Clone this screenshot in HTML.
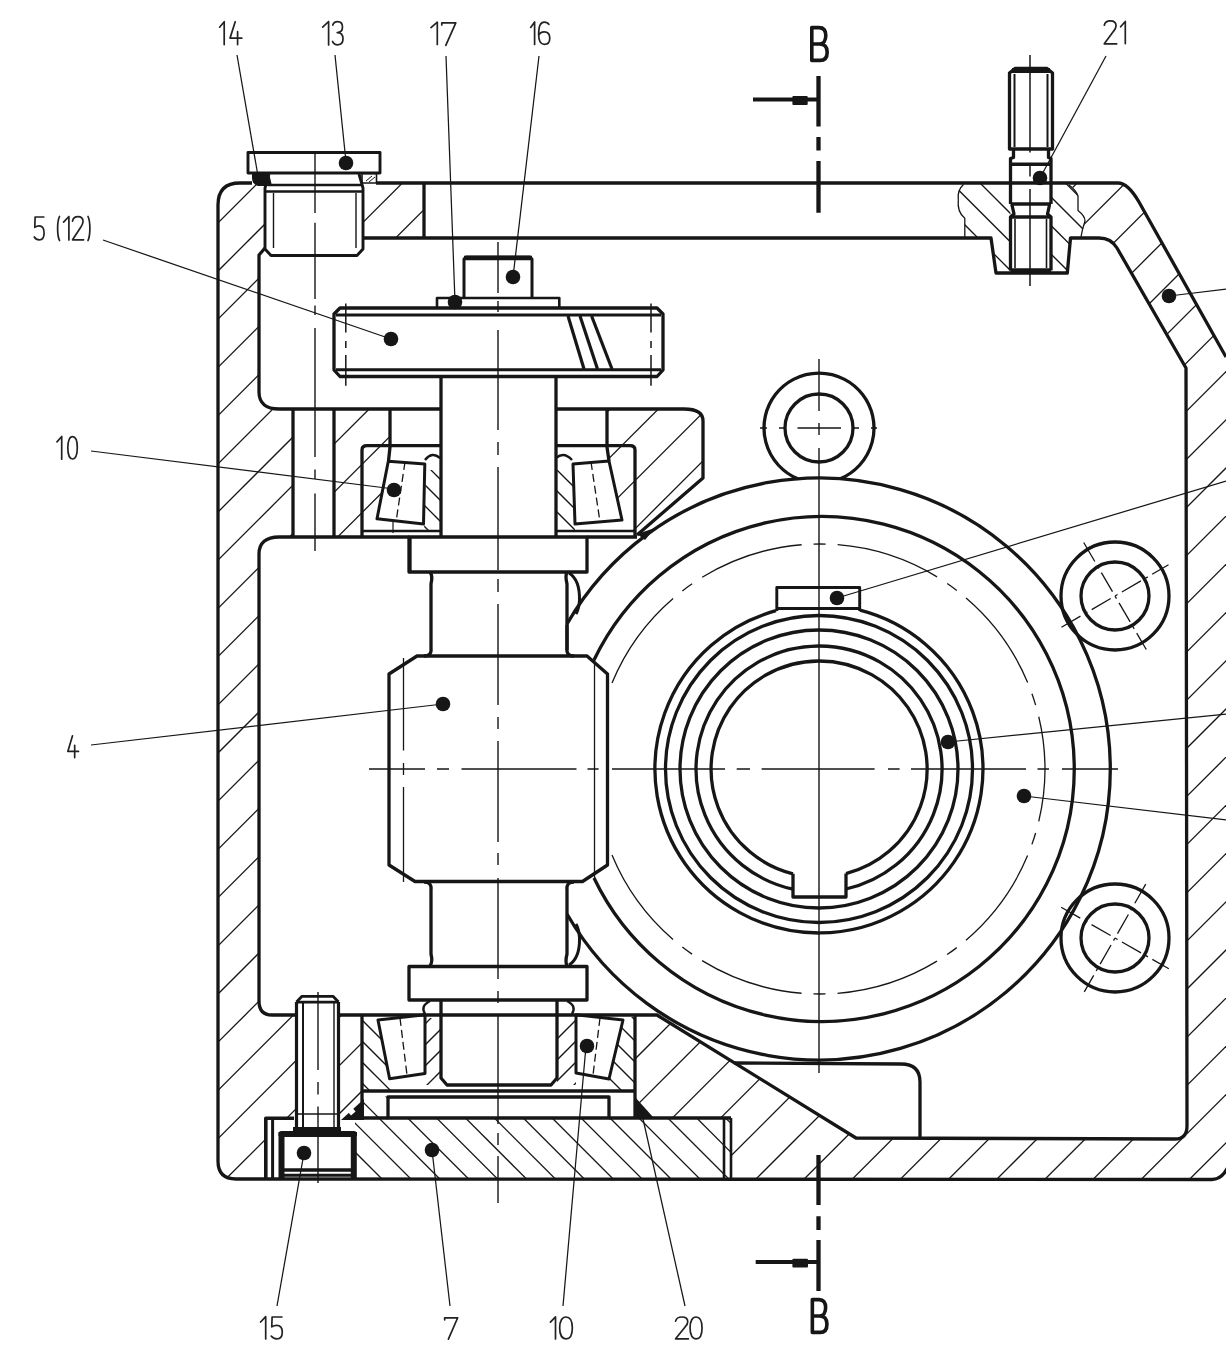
<!DOCTYPE html>
<html><head><meta charset="utf-8"><style>html,body{margin:0;padding:0;background:#fff;}svg{display:block;}</style></head>
<body><svg width="1226" height="1350" viewBox="0 0 1226 1350">
<defs><clipPath id="hh"><path d="M240,183 Q218,183 218,205 L218,1015 L259,1015 L259,554 C259,543 266,537 279,537 L293,537 L293,409 L279,409 C266,409 259,403 259,392 L259,255 L265,248 L265,183 Z M1069,183 L1118,183 Q1128,183 1139,202 L1226,357 L1226,1138 L1187,1138 L1186,368 L1117,248 Q1111,238 1099,238 L1081,238 L1085,221 Q1085,216 1078,210.5 L1078,196 Q1076,190 1069,183 Z"/></clipPath><clipPath id="hh2"><path d="M363,183 L424,183 L424,238 L363,238 Z"/></clipPath><clipPath id="hh3"><path d="M334,409 L390,409 L390,445 L362,445 L362,537 L334,537 Z"/></clipPath><clipPath id="hh4"><path d="M607,409 L684,409 Q703,409 703,421 L703,478 L637,535 L635,537 L635,445 L607,445 Z"/></clipPath><clipPath id="hh5"><path d="M657,1015 L856,1138 L1226,1138 L1226,1179 L731,1179 L731,1118 L635,1118 L635,1016 Z"/></clipPath><clipPath id="hh6"><path d="M258,1015 L296,1015 L296,1118 L265,1118 L265,1179 L236,1179 Q218,1179 218,1161 L218,1015 Z M339,1015 L362,1015 L362,1118 L339,1118 Z"/></clipPath><clipPath id="hc"><path d="M355,1118 L388,1118 L388,1097 L362,1091 L362,1118 M355,1118 L731,1118 L731,1179 L355,1179 Z"/></clipPath><clipPath id="hb"><path d="M963.5,184 Q957,190 958.3,200 Q957,212 964.8,218.3 L964.8,238 L991,238 L996,273 L1010.5,273 L1010.5,184 Z M1051,184 L1069,184 Q1076,190 1078,196 L1078,210.5 Q1085,216 1085,221 L1081,238 L1070.5,238 L1067.3,273 L1051,273 Z"/></clipPath><clipPath id="hcu1"><path d="M363,447 L392,447 L388,461 L377,519 L374,531 L363,531 Z"/></clipPath><clipPath id="hcu2"><path d="M634,447 L606,447 L609,461 L622,520 L626,531 L634,531 Z"/></clipPath><clipPath id="hcu3"><path d="M363,1017 L378,1017 L389,1079 L392,1090 L363,1090 Z"/></clipPath><clipPath id="hcu4"><path d="M634,1017 L623,1017 L609,1079 L606,1090 L634,1090 Z"/></clipPath><clipPath id="hcn3"><path d="M425,1018 L441,1018 L441,1085 L425,1085 Z"/></clipPath><clipPath id="hcn4"><path d="M557,1018 L576,1018 L576,1085 L557,1085 Z"/></clipPath><clipPath id="hcn1"><path d="M426,470 L440,470 L440,531 L424,531 Z"/></clipPath><clipPath id="hcn2"><path d="M557,470 L572,470 L575,531 L557,531 Z"/></clipPath></defs>
<rect width="1226" height="1350" fill="#ffffff"/>
<g fill="none" stroke="#161616" stroke-linecap="butt" stroke-linejoin="round">
<g clip-path="url(#hh)" stroke-width="1.3">
<line x1="-41.2" y1="0" x2="-1391.2" y2="1350"/>
<line x1="7.0" y1="0" x2="-1343.0" y2="1350"/>
<line x1="55.2" y1="0" x2="-1294.8" y2="1350"/>
<line x1="103.4" y1="0" x2="-1246.6" y2="1350"/>
<line x1="151.6" y1="0" x2="-1198.4" y2="1350"/>
<line x1="199.8" y1="0" x2="-1150.2" y2="1350"/>
<line x1="248.0" y1="0" x2="-1102.0" y2="1350"/>
<line x1="296.2" y1="0" x2="-1053.8" y2="1350"/>
<line x1="344.4" y1="0" x2="-1005.6" y2="1350"/>
<line x1="392.6" y1="0" x2="-957.4" y2="1350"/>
<line x1="440.8" y1="0" x2="-909.2" y2="1350"/>
<line x1="489.0" y1="0" x2="-861.0" y2="1350"/>
<line x1="537.2" y1="0" x2="-812.8" y2="1350"/>
<line x1="585.4" y1="0" x2="-764.6" y2="1350"/>
<line x1="633.6" y1="0" x2="-716.4" y2="1350"/>
<line x1="681.8" y1="0" x2="-668.2" y2="1350"/>
<line x1="730.0" y1="0" x2="-620.0" y2="1350"/>
<line x1="778.2" y1="0" x2="-571.8" y2="1350"/>
<line x1="826.4" y1="0" x2="-523.6" y2="1350"/>
<line x1="874.6" y1="0" x2="-475.4" y2="1350"/>
<line x1="922.8" y1="0" x2="-427.2" y2="1350"/>
<line x1="971.0" y1="0" x2="-379.0" y2="1350"/>
<line x1="1019.2" y1="0" x2="-330.8" y2="1350"/>
<line x1="1067.4" y1="0" x2="-282.6" y2="1350"/>
<line x1="1115.6" y1="0" x2="-234.4" y2="1350"/>
<line x1="1163.8" y1="0" x2="-186.2" y2="1350"/>
<line x1="1212.0" y1="0" x2="-138.0" y2="1350"/>
<line x1="1260.2" y1="0" x2="-89.8" y2="1350"/>
<line x1="1308.4" y1="0" x2="-41.6" y2="1350"/>
<line x1="1356.6" y1="0" x2="6.6" y2="1350"/>
<line x1="1404.8" y1="0" x2="54.8" y2="1350"/>
<line x1="1453.0" y1="0" x2="103.0" y2="1350"/>
<line x1="1501.2" y1="0" x2="151.2" y2="1350"/>
<line x1="1549.4" y1="0" x2="199.4" y2="1350"/>
<line x1="1597.6" y1="0" x2="247.6" y2="1350"/>
<line x1="1645.8" y1="0" x2="295.8" y2="1350"/>
<line x1="1694.0" y1="0" x2="344.0" y2="1350"/>
<line x1="1742.2" y1="0" x2="392.2" y2="1350"/>
<line x1="1790.4" y1="0" x2="440.4" y2="1350"/>
<line x1="1838.6" y1="0" x2="488.6" y2="1350"/>
<line x1="1886.8" y1="0" x2="536.8" y2="1350"/>
<line x1="1935.0" y1="0" x2="585.0" y2="1350"/>
<line x1="1983.2" y1="0" x2="633.2" y2="1350"/>
<line x1="2031.4" y1="0" x2="681.4" y2="1350"/>
<line x1="2079.6" y1="0" x2="729.6" y2="1350"/>
<line x1="2127.8" y1="0" x2="777.8" y2="1350"/>
<line x1="2176.0" y1="0" x2="826.0" y2="1350"/>
<line x1="2224.2" y1="0" x2="874.2" y2="1350"/>
<line x1="2272.4" y1="0" x2="922.4" y2="1350"/>
<line x1="2320.6" y1="0" x2="970.6" y2="1350"/>
<line x1="2368.8" y1="0" x2="1018.8" y2="1350"/>
<line x1="2417.0" y1="0" x2="1067.0" y2="1350"/>
<line x1="2465.2" y1="0" x2="1115.2" y2="1350"/>
<line x1="2513.4" y1="0" x2="1163.4" y2="1350"/>
<line x1="2561.6" y1="0" x2="1211.6" y2="1350"/>
<line x1="2609.8" y1="0" x2="1259.8" y2="1350"/>
</g>
<g clip-path="url(#hh2)" stroke-width="1.3">
<line x1="-41.2" y1="0" x2="-1391.2" y2="1350"/>
<line x1="7.0" y1="0" x2="-1343.0" y2="1350"/>
<line x1="55.2" y1="0" x2="-1294.8" y2="1350"/>
<line x1="103.4" y1="0" x2="-1246.6" y2="1350"/>
<line x1="151.6" y1="0" x2="-1198.4" y2="1350"/>
<line x1="199.8" y1="0" x2="-1150.2" y2="1350"/>
<line x1="248.0" y1="0" x2="-1102.0" y2="1350"/>
<line x1="296.2" y1="0" x2="-1053.8" y2="1350"/>
<line x1="344.4" y1="0" x2="-1005.6" y2="1350"/>
<line x1="392.6" y1="0" x2="-957.4" y2="1350"/>
<line x1="440.8" y1="0" x2="-909.2" y2="1350"/>
<line x1="489.0" y1="0" x2="-861.0" y2="1350"/>
<line x1="537.2" y1="0" x2="-812.8" y2="1350"/>
<line x1="585.4" y1="0" x2="-764.6" y2="1350"/>
<line x1="633.6" y1="0" x2="-716.4" y2="1350"/>
<line x1="681.8" y1="0" x2="-668.2" y2="1350"/>
<line x1="730.0" y1="0" x2="-620.0" y2="1350"/>
<line x1="778.2" y1="0" x2="-571.8" y2="1350"/>
<line x1="826.4" y1="0" x2="-523.6" y2="1350"/>
<line x1="874.6" y1="0" x2="-475.4" y2="1350"/>
<line x1="922.8" y1="0" x2="-427.2" y2="1350"/>
<line x1="971.0" y1="0" x2="-379.0" y2="1350"/>
<line x1="1019.2" y1="0" x2="-330.8" y2="1350"/>
<line x1="1067.4" y1="0" x2="-282.6" y2="1350"/>
<line x1="1115.6" y1="0" x2="-234.4" y2="1350"/>
<line x1="1163.8" y1="0" x2="-186.2" y2="1350"/>
<line x1="1212.0" y1="0" x2="-138.0" y2="1350"/>
<line x1="1260.2" y1="0" x2="-89.8" y2="1350"/>
<line x1="1308.4" y1="0" x2="-41.6" y2="1350"/>
<line x1="1356.6" y1="0" x2="6.6" y2="1350"/>
<line x1="1404.8" y1="0" x2="54.8" y2="1350"/>
<line x1="1453.0" y1="0" x2="103.0" y2="1350"/>
<line x1="1501.2" y1="0" x2="151.2" y2="1350"/>
<line x1="1549.4" y1="0" x2="199.4" y2="1350"/>
<line x1="1597.6" y1="0" x2="247.6" y2="1350"/>
<line x1="1645.8" y1="0" x2="295.8" y2="1350"/>
<line x1="1694.0" y1="0" x2="344.0" y2="1350"/>
<line x1="1742.2" y1="0" x2="392.2" y2="1350"/>
<line x1="1790.4" y1="0" x2="440.4" y2="1350"/>
<line x1="1838.6" y1="0" x2="488.6" y2="1350"/>
<line x1="1886.8" y1="0" x2="536.8" y2="1350"/>
<line x1="1935.0" y1="0" x2="585.0" y2="1350"/>
<line x1="1983.2" y1="0" x2="633.2" y2="1350"/>
<line x1="2031.4" y1="0" x2="681.4" y2="1350"/>
<line x1="2079.6" y1="0" x2="729.6" y2="1350"/>
<line x1="2127.8" y1="0" x2="777.8" y2="1350"/>
<line x1="2176.0" y1="0" x2="826.0" y2="1350"/>
<line x1="2224.2" y1="0" x2="874.2" y2="1350"/>
<line x1="2272.4" y1="0" x2="922.4" y2="1350"/>
<line x1="2320.6" y1="0" x2="970.6" y2="1350"/>
<line x1="2368.8" y1="0" x2="1018.8" y2="1350"/>
<line x1="2417.0" y1="0" x2="1067.0" y2="1350"/>
<line x1="2465.2" y1="0" x2="1115.2" y2="1350"/>
<line x1="2513.4" y1="0" x2="1163.4" y2="1350"/>
<line x1="2561.6" y1="0" x2="1211.6" y2="1350"/>
<line x1="2609.8" y1="0" x2="1259.8" y2="1350"/>
</g>
<g clip-path="url(#hh3)" stroke-width="1.3">
<line x1="-41.2" y1="0" x2="-1391.2" y2="1350"/>
<line x1="7.0" y1="0" x2="-1343.0" y2="1350"/>
<line x1="55.2" y1="0" x2="-1294.8" y2="1350"/>
<line x1="103.4" y1="0" x2="-1246.6" y2="1350"/>
<line x1="151.6" y1="0" x2="-1198.4" y2="1350"/>
<line x1="199.8" y1="0" x2="-1150.2" y2="1350"/>
<line x1="248.0" y1="0" x2="-1102.0" y2="1350"/>
<line x1="296.2" y1="0" x2="-1053.8" y2="1350"/>
<line x1="344.4" y1="0" x2="-1005.6" y2="1350"/>
<line x1="392.6" y1="0" x2="-957.4" y2="1350"/>
<line x1="440.8" y1="0" x2="-909.2" y2="1350"/>
<line x1="489.0" y1="0" x2="-861.0" y2="1350"/>
<line x1="537.2" y1="0" x2="-812.8" y2="1350"/>
<line x1="585.4" y1="0" x2="-764.6" y2="1350"/>
<line x1="633.6" y1="0" x2="-716.4" y2="1350"/>
<line x1="681.8" y1="0" x2="-668.2" y2="1350"/>
<line x1="730.0" y1="0" x2="-620.0" y2="1350"/>
<line x1="778.2" y1="0" x2="-571.8" y2="1350"/>
<line x1="826.4" y1="0" x2="-523.6" y2="1350"/>
<line x1="874.6" y1="0" x2="-475.4" y2="1350"/>
<line x1="922.8" y1="0" x2="-427.2" y2="1350"/>
<line x1="971.0" y1="0" x2="-379.0" y2="1350"/>
<line x1="1019.2" y1="0" x2="-330.8" y2="1350"/>
<line x1="1067.4" y1="0" x2="-282.6" y2="1350"/>
<line x1="1115.6" y1="0" x2="-234.4" y2="1350"/>
<line x1="1163.8" y1="0" x2="-186.2" y2="1350"/>
<line x1="1212.0" y1="0" x2="-138.0" y2="1350"/>
<line x1="1260.2" y1="0" x2="-89.8" y2="1350"/>
<line x1="1308.4" y1="0" x2="-41.6" y2="1350"/>
<line x1="1356.6" y1="0" x2="6.6" y2="1350"/>
<line x1="1404.8" y1="0" x2="54.8" y2="1350"/>
<line x1="1453.0" y1="0" x2="103.0" y2="1350"/>
<line x1="1501.2" y1="0" x2="151.2" y2="1350"/>
<line x1="1549.4" y1="0" x2="199.4" y2="1350"/>
<line x1="1597.6" y1="0" x2="247.6" y2="1350"/>
<line x1="1645.8" y1="0" x2="295.8" y2="1350"/>
<line x1="1694.0" y1="0" x2="344.0" y2="1350"/>
<line x1="1742.2" y1="0" x2="392.2" y2="1350"/>
<line x1="1790.4" y1="0" x2="440.4" y2="1350"/>
<line x1="1838.6" y1="0" x2="488.6" y2="1350"/>
<line x1="1886.8" y1="0" x2="536.8" y2="1350"/>
<line x1="1935.0" y1="0" x2="585.0" y2="1350"/>
<line x1="1983.2" y1="0" x2="633.2" y2="1350"/>
<line x1="2031.4" y1="0" x2="681.4" y2="1350"/>
<line x1="2079.6" y1="0" x2="729.6" y2="1350"/>
<line x1="2127.8" y1="0" x2="777.8" y2="1350"/>
<line x1="2176.0" y1="0" x2="826.0" y2="1350"/>
<line x1="2224.2" y1="0" x2="874.2" y2="1350"/>
<line x1="2272.4" y1="0" x2="922.4" y2="1350"/>
<line x1="2320.6" y1="0" x2="970.6" y2="1350"/>
<line x1="2368.8" y1="0" x2="1018.8" y2="1350"/>
<line x1="2417.0" y1="0" x2="1067.0" y2="1350"/>
<line x1="2465.2" y1="0" x2="1115.2" y2="1350"/>
<line x1="2513.4" y1="0" x2="1163.4" y2="1350"/>
<line x1="2561.6" y1="0" x2="1211.6" y2="1350"/>
<line x1="2609.8" y1="0" x2="1259.8" y2="1350"/>
</g>
<g clip-path="url(#hh4)" stroke-width="1.3">
<line x1="-41.2" y1="0" x2="-1391.2" y2="1350"/>
<line x1="7.0" y1="0" x2="-1343.0" y2="1350"/>
<line x1="55.2" y1="0" x2="-1294.8" y2="1350"/>
<line x1="103.4" y1="0" x2="-1246.6" y2="1350"/>
<line x1="151.6" y1="0" x2="-1198.4" y2="1350"/>
<line x1="199.8" y1="0" x2="-1150.2" y2="1350"/>
<line x1="248.0" y1="0" x2="-1102.0" y2="1350"/>
<line x1="296.2" y1="0" x2="-1053.8" y2="1350"/>
<line x1="344.4" y1="0" x2="-1005.6" y2="1350"/>
<line x1="392.6" y1="0" x2="-957.4" y2="1350"/>
<line x1="440.8" y1="0" x2="-909.2" y2="1350"/>
<line x1="489.0" y1="0" x2="-861.0" y2="1350"/>
<line x1="537.2" y1="0" x2="-812.8" y2="1350"/>
<line x1="585.4" y1="0" x2="-764.6" y2="1350"/>
<line x1="633.6" y1="0" x2="-716.4" y2="1350"/>
<line x1="681.8" y1="0" x2="-668.2" y2="1350"/>
<line x1="730.0" y1="0" x2="-620.0" y2="1350"/>
<line x1="778.2" y1="0" x2="-571.8" y2="1350"/>
<line x1="826.4" y1="0" x2="-523.6" y2="1350"/>
<line x1="874.6" y1="0" x2="-475.4" y2="1350"/>
<line x1="922.8" y1="0" x2="-427.2" y2="1350"/>
<line x1="971.0" y1="0" x2="-379.0" y2="1350"/>
<line x1="1019.2" y1="0" x2="-330.8" y2="1350"/>
<line x1="1067.4" y1="0" x2="-282.6" y2="1350"/>
<line x1="1115.6" y1="0" x2="-234.4" y2="1350"/>
<line x1="1163.8" y1="0" x2="-186.2" y2="1350"/>
<line x1="1212.0" y1="0" x2="-138.0" y2="1350"/>
<line x1="1260.2" y1="0" x2="-89.8" y2="1350"/>
<line x1="1308.4" y1="0" x2="-41.6" y2="1350"/>
<line x1="1356.6" y1="0" x2="6.6" y2="1350"/>
<line x1="1404.8" y1="0" x2="54.8" y2="1350"/>
<line x1="1453.0" y1="0" x2="103.0" y2="1350"/>
<line x1="1501.2" y1="0" x2="151.2" y2="1350"/>
<line x1="1549.4" y1="0" x2="199.4" y2="1350"/>
<line x1="1597.6" y1="0" x2="247.6" y2="1350"/>
<line x1="1645.8" y1="0" x2="295.8" y2="1350"/>
<line x1="1694.0" y1="0" x2="344.0" y2="1350"/>
<line x1="1742.2" y1="0" x2="392.2" y2="1350"/>
<line x1="1790.4" y1="0" x2="440.4" y2="1350"/>
<line x1="1838.6" y1="0" x2="488.6" y2="1350"/>
<line x1="1886.8" y1="0" x2="536.8" y2="1350"/>
<line x1="1935.0" y1="0" x2="585.0" y2="1350"/>
<line x1="1983.2" y1="0" x2="633.2" y2="1350"/>
<line x1="2031.4" y1="0" x2="681.4" y2="1350"/>
<line x1="2079.6" y1="0" x2="729.6" y2="1350"/>
<line x1="2127.8" y1="0" x2="777.8" y2="1350"/>
<line x1="2176.0" y1="0" x2="826.0" y2="1350"/>
<line x1="2224.2" y1="0" x2="874.2" y2="1350"/>
<line x1="2272.4" y1="0" x2="922.4" y2="1350"/>
<line x1="2320.6" y1="0" x2="970.6" y2="1350"/>
<line x1="2368.8" y1="0" x2="1018.8" y2="1350"/>
<line x1="2417.0" y1="0" x2="1067.0" y2="1350"/>
<line x1="2465.2" y1="0" x2="1115.2" y2="1350"/>
<line x1="2513.4" y1="0" x2="1163.4" y2="1350"/>
<line x1="2561.6" y1="0" x2="1211.6" y2="1350"/>
<line x1="2609.8" y1="0" x2="1259.8" y2="1350"/>
</g>
<g clip-path="url(#hh5)" stroke-width="1.3">
<line x1="-41.2" y1="0" x2="-1391.2" y2="1350"/>
<line x1="7.0" y1="0" x2="-1343.0" y2="1350"/>
<line x1="55.2" y1="0" x2="-1294.8" y2="1350"/>
<line x1="103.4" y1="0" x2="-1246.6" y2="1350"/>
<line x1="151.6" y1="0" x2="-1198.4" y2="1350"/>
<line x1="199.8" y1="0" x2="-1150.2" y2="1350"/>
<line x1="248.0" y1="0" x2="-1102.0" y2="1350"/>
<line x1="296.2" y1="0" x2="-1053.8" y2="1350"/>
<line x1="344.4" y1="0" x2="-1005.6" y2="1350"/>
<line x1="392.6" y1="0" x2="-957.4" y2="1350"/>
<line x1="440.8" y1="0" x2="-909.2" y2="1350"/>
<line x1="489.0" y1="0" x2="-861.0" y2="1350"/>
<line x1="537.2" y1="0" x2="-812.8" y2="1350"/>
<line x1="585.4" y1="0" x2="-764.6" y2="1350"/>
<line x1="633.6" y1="0" x2="-716.4" y2="1350"/>
<line x1="681.8" y1="0" x2="-668.2" y2="1350"/>
<line x1="730.0" y1="0" x2="-620.0" y2="1350"/>
<line x1="778.2" y1="0" x2="-571.8" y2="1350"/>
<line x1="826.4" y1="0" x2="-523.6" y2="1350"/>
<line x1="874.6" y1="0" x2="-475.4" y2="1350"/>
<line x1="922.8" y1="0" x2="-427.2" y2="1350"/>
<line x1="971.0" y1="0" x2="-379.0" y2="1350"/>
<line x1="1019.2" y1="0" x2="-330.8" y2="1350"/>
<line x1="1067.4" y1="0" x2="-282.6" y2="1350"/>
<line x1="1115.6" y1="0" x2="-234.4" y2="1350"/>
<line x1="1163.8" y1="0" x2="-186.2" y2="1350"/>
<line x1="1212.0" y1="0" x2="-138.0" y2="1350"/>
<line x1="1260.2" y1="0" x2="-89.8" y2="1350"/>
<line x1="1308.4" y1="0" x2="-41.6" y2="1350"/>
<line x1="1356.6" y1="0" x2="6.6" y2="1350"/>
<line x1="1404.8" y1="0" x2="54.8" y2="1350"/>
<line x1="1453.0" y1="0" x2="103.0" y2="1350"/>
<line x1="1501.2" y1="0" x2="151.2" y2="1350"/>
<line x1="1549.4" y1="0" x2="199.4" y2="1350"/>
<line x1="1597.6" y1="0" x2="247.6" y2="1350"/>
<line x1="1645.8" y1="0" x2="295.8" y2="1350"/>
<line x1="1694.0" y1="0" x2="344.0" y2="1350"/>
<line x1="1742.2" y1="0" x2="392.2" y2="1350"/>
<line x1="1790.4" y1="0" x2="440.4" y2="1350"/>
<line x1="1838.6" y1="0" x2="488.6" y2="1350"/>
<line x1="1886.8" y1="0" x2="536.8" y2="1350"/>
<line x1="1935.0" y1="0" x2="585.0" y2="1350"/>
<line x1="1983.2" y1="0" x2="633.2" y2="1350"/>
<line x1="2031.4" y1="0" x2="681.4" y2="1350"/>
<line x1="2079.6" y1="0" x2="729.6" y2="1350"/>
<line x1="2127.8" y1="0" x2="777.8" y2="1350"/>
<line x1="2176.0" y1="0" x2="826.0" y2="1350"/>
<line x1="2224.2" y1="0" x2="874.2" y2="1350"/>
<line x1="2272.4" y1="0" x2="922.4" y2="1350"/>
<line x1="2320.6" y1="0" x2="970.6" y2="1350"/>
<line x1="2368.8" y1="0" x2="1018.8" y2="1350"/>
<line x1="2417.0" y1="0" x2="1067.0" y2="1350"/>
<line x1="2465.2" y1="0" x2="1115.2" y2="1350"/>
<line x1="2513.4" y1="0" x2="1163.4" y2="1350"/>
<line x1="2561.6" y1="0" x2="1211.6" y2="1350"/>
<line x1="2609.8" y1="0" x2="1259.8" y2="1350"/>
</g>
<g clip-path="url(#hh6)" stroke-width="1.3">
<line x1="-41.2" y1="0" x2="-1391.2" y2="1350"/>
<line x1="7.0" y1="0" x2="-1343.0" y2="1350"/>
<line x1="55.2" y1="0" x2="-1294.8" y2="1350"/>
<line x1="103.4" y1="0" x2="-1246.6" y2="1350"/>
<line x1="151.6" y1="0" x2="-1198.4" y2="1350"/>
<line x1="199.8" y1="0" x2="-1150.2" y2="1350"/>
<line x1="248.0" y1="0" x2="-1102.0" y2="1350"/>
<line x1="296.2" y1="0" x2="-1053.8" y2="1350"/>
<line x1="344.4" y1="0" x2="-1005.6" y2="1350"/>
<line x1="392.6" y1="0" x2="-957.4" y2="1350"/>
<line x1="440.8" y1="0" x2="-909.2" y2="1350"/>
<line x1="489.0" y1="0" x2="-861.0" y2="1350"/>
<line x1="537.2" y1="0" x2="-812.8" y2="1350"/>
<line x1="585.4" y1="0" x2="-764.6" y2="1350"/>
<line x1="633.6" y1="0" x2="-716.4" y2="1350"/>
<line x1="681.8" y1="0" x2="-668.2" y2="1350"/>
<line x1="730.0" y1="0" x2="-620.0" y2="1350"/>
<line x1="778.2" y1="0" x2="-571.8" y2="1350"/>
<line x1="826.4" y1="0" x2="-523.6" y2="1350"/>
<line x1="874.6" y1="0" x2="-475.4" y2="1350"/>
<line x1="922.8" y1="0" x2="-427.2" y2="1350"/>
<line x1="971.0" y1="0" x2="-379.0" y2="1350"/>
<line x1="1019.2" y1="0" x2="-330.8" y2="1350"/>
<line x1="1067.4" y1="0" x2="-282.6" y2="1350"/>
<line x1="1115.6" y1="0" x2="-234.4" y2="1350"/>
<line x1="1163.8" y1="0" x2="-186.2" y2="1350"/>
<line x1="1212.0" y1="0" x2="-138.0" y2="1350"/>
<line x1="1260.2" y1="0" x2="-89.8" y2="1350"/>
<line x1="1308.4" y1="0" x2="-41.6" y2="1350"/>
<line x1="1356.6" y1="0" x2="6.6" y2="1350"/>
<line x1="1404.8" y1="0" x2="54.8" y2="1350"/>
<line x1="1453.0" y1="0" x2="103.0" y2="1350"/>
<line x1="1501.2" y1="0" x2="151.2" y2="1350"/>
<line x1="1549.4" y1="0" x2="199.4" y2="1350"/>
<line x1="1597.6" y1="0" x2="247.6" y2="1350"/>
<line x1="1645.8" y1="0" x2="295.8" y2="1350"/>
<line x1="1694.0" y1="0" x2="344.0" y2="1350"/>
<line x1="1742.2" y1="0" x2="392.2" y2="1350"/>
<line x1="1790.4" y1="0" x2="440.4" y2="1350"/>
<line x1="1838.6" y1="0" x2="488.6" y2="1350"/>
<line x1="1886.8" y1="0" x2="536.8" y2="1350"/>
<line x1="1935.0" y1="0" x2="585.0" y2="1350"/>
<line x1="1983.2" y1="0" x2="633.2" y2="1350"/>
<line x1="2031.4" y1="0" x2="681.4" y2="1350"/>
<line x1="2079.6" y1="0" x2="729.6" y2="1350"/>
<line x1="2127.8" y1="0" x2="777.8" y2="1350"/>
<line x1="2176.0" y1="0" x2="826.0" y2="1350"/>
<line x1="2224.2" y1="0" x2="874.2" y2="1350"/>
<line x1="2272.4" y1="0" x2="922.4" y2="1350"/>
<line x1="2320.6" y1="0" x2="970.6" y2="1350"/>
<line x1="2368.8" y1="0" x2="1018.8" y2="1350"/>
<line x1="2417.0" y1="0" x2="1067.0" y2="1350"/>
<line x1="2465.2" y1="0" x2="1115.2" y2="1350"/>
<line x1="2513.4" y1="0" x2="1163.4" y2="1350"/>
<line x1="2561.6" y1="0" x2="1211.6" y2="1350"/>
<line x1="2609.8" y1="0" x2="1259.8" y2="1350"/>
</g>
<g clip-path="url(#hc)" stroke-width="1.3">
<line x1="-1375.0" y1="0" x2="-25.0" y2="1350"/>
<line x1="-1346.1" y1="0" x2="3.9" y2="1350"/>
<line x1="-1317.2" y1="0" x2="32.8" y2="1350"/>
<line x1="-1288.3" y1="0" x2="61.7" y2="1350"/>
<line x1="-1259.4" y1="0" x2="90.6" y2="1350"/>
<line x1="-1230.5" y1="0" x2="119.5" y2="1350"/>
<line x1="-1201.6" y1="0" x2="148.4" y2="1350"/>
<line x1="-1172.7" y1="0" x2="177.3" y2="1350"/>
<line x1="-1143.8" y1="0" x2="206.2" y2="1350"/>
<line x1="-1114.9" y1="0" x2="235.1" y2="1350"/>
<line x1="-1086.0" y1="0" x2="264.0" y2="1350"/>
<line x1="-1057.1" y1="0" x2="292.9" y2="1350"/>
<line x1="-1028.2" y1="0" x2="321.8" y2="1350"/>
<line x1="-999.3" y1="0" x2="350.7" y2="1350"/>
<line x1="-970.4" y1="0" x2="379.6" y2="1350"/>
<line x1="-941.5" y1="0" x2="408.5" y2="1350"/>
<line x1="-912.6" y1="0" x2="437.4" y2="1350"/>
<line x1="-883.7" y1="0" x2="466.3" y2="1350"/>
<line x1="-854.8" y1="0" x2="495.2" y2="1350"/>
<line x1="-825.9" y1="0" x2="524.1" y2="1350"/>
<line x1="-797.0" y1="0" x2="553.0" y2="1350"/>
<line x1="-768.1" y1="0" x2="581.9" y2="1350"/>
<line x1="-739.2" y1="0" x2="610.8" y2="1350"/>
<line x1="-710.3" y1="0" x2="639.7" y2="1350"/>
<line x1="-681.4" y1="0" x2="668.6" y2="1350"/>
<line x1="-652.5" y1="0" x2="697.5" y2="1350"/>
<line x1="-623.6" y1="0" x2="726.4" y2="1350"/>
<line x1="-594.7" y1="0" x2="755.3" y2="1350"/>
<line x1="-565.8" y1="0" x2="784.2" y2="1350"/>
<line x1="-536.9" y1="0" x2="813.1" y2="1350"/>
<line x1="-508.0" y1="0" x2="842.0" y2="1350"/>
<line x1="-479.1" y1="0" x2="870.9" y2="1350"/>
<line x1="-450.2" y1="0" x2="899.8" y2="1350"/>
<line x1="-421.3" y1="0" x2="928.7" y2="1350"/>
<line x1="-392.4" y1="0" x2="957.6" y2="1350"/>
<line x1="-363.5" y1="0" x2="986.5" y2="1350"/>
<line x1="-334.6" y1="0" x2="1015.4" y2="1350"/>
<line x1="-305.7" y1="0" x2="1044.3" y2="1350"/>
<line x1="-276.8" y1="0" x2="1073.2" y2="1350"/>
<line x1="-247.9" y1="0" x2="1102.1" y2="1350"/>
<line x1="-219.0" y1="0" x2="1131.0" y2="1350"/>
<line x1="-190.1" y1="0" x2="1159.9" y2="1350"/>
<line x1="-161.2" y1="0" x2="1188.8" y2="1350"/>
<line x1="-132.3" y1="0" x2="1217.7" y2="1350"/>
<line x1="-103.4" y1="0" x2="1246.6" y2="1350"/>
<line x1="-74.5" y1="0" x2="1275.5" y2="1350"/>
<line x1="-45.6" y1="0" x2="1304.4" y2="1350"/>
<line x1="-16.7" y1="0" x2="1333.3" y2="1350"/>
<line x1="12.2" y1="0" x2="1362.2" y2="1350"/>
<line x1="41.1" y1="0" x2="1391.1" y2="1350"/>
<line x1="70.0" y1="0" x2="1420.0" y2="1350"/>
<line x1="98.9" y1="0" x2="1448.9" y2="1350"/>
<line x1="127.8" y1="0" x2="1477.8" y2="1350"/>
<line x1="156.7" y1="0" x2="1506.7" y2="1350"/>
<line x1="185.6" y1="0" x2="1535.6" y2="1350"/>
<line x1="214.5" y1="0" x2="1564.5" y2="1350"/>
<line x1="243.4" y1="0" x2="1593.4" y2="1350"/>
<line x1="272.3" y1="0" x2="1622.3" y2="1350"/>
<line x1="301.2" y1="0" x2="1651.2" y2="1350"/>
<line x1="330.1" y1="0" x2="1680.1" y2="1350"/>
<line x1="359.0" y1="0" x2="1709.0" y2="1350"/>
<line x1="387.9" y1="0" x2="1737.9" y2="1350"/>
<line x1="416.8" y1="0" x2="1766.8" y2="1350"/>
<line x1="445.7" y1="0" x2="1795.7" y2="1350"/>
<line x1="474.6" y1="0" x2="1824.6" y2="1350"/>
<line x1="503.5" y1="0" x2="1853.5" y2="1350"/>
<line x1="532.4" y1="0" x2="1882.4" y2="1350"/>
<line x1="561.3" y1="0" x2="1911.3" y2="1350"/>
<line x1="590.2" y1="0" x2="1940.2" y2="1350"/>
<line x1="619.1" y1="0" x2="1969.1" y2="1350"/>
<line x1="648.0" y1="0" x2="1998.0" y2="1350"/>
<line x1="676.9" y1="0" x2="2026.9" y2="1350"/>
<line x1="705.8" y1="0" x2="2055.8" y2="1350"/>
<line x1="734.7" y1="0" x2="2084.7" y2="1350"/>
<line x1="763.6" y1="0" x2="2113.6" y2="1350"/>
<line x1="792.5" y1="0" x2="2142.5" y2="1350"/>
<line x1="821.4" y1="0" x2="2171.4" y2="1350"/>
<line x1="850.3" y1="0" x2="2200.3" y2="1350"/>
<line x1="879.2" y1="0" x2="2229.2" y2="1350"/>
<line x1="908.1" y1="0" x2="2258.1" y2="1350"/>
<line x1="937.0" y1="0" x2="2287.0" y2="1350"/>
<line x1="965.9" y1="0" x2="2315.9" y2="1350"/>
<line x1="994.8" y1="0" x2="2344.8" y2="1350"/>
<line x1="1023.7" y1="0" x2="2373.7" y2="1350"/>
<line x1="1052.6" y1="0" x2="2402.6" y2="1350"/>
<line x1="1081.5" y1="0" x2="2431.5" y2="1350"/>
<line x1="1110.4" y1="0" x2="2460.4" y2="1350"/>
<line x1="1139.3" y1="0" x2="2489.3" y2="1350"/>
<line x1="1168.2" y1="0" x2="2518.2" y2="1350"/>
<line x1="1197.1" y1="0" x2="2547.1" y2="1350"/>
<line x1="1226.0" y1="0" x2="2576.0" y2="1350"/>
</g>
<g clip-path="url(#hb)" stroke-width="1.3">
<line x1="-1369.0" y1="0" x2="-19.0" y2="1350"/>
<line x1="-1340.5" y1="0" x2="9.5" y2="1350"/>
<line x1="-1312.0" y1="0" x2="38.0" y2="1350"/>
<line x1="-1283.5" y1="0" x2="66.5" y2="1350"/>
<line x1="-1255.0" y1="0" x2="95.0" y2="1350"/>
<line x1="-1226.5" y1="0" x2="123.5" y2="1350"/>
<line x1="-1198.0" y1="0" x2="152.0" y2="1350"/>
<line x1="-1169.5" y1="0" x2="180.5" y2="1350"/>
<line x1="-1141.0" y1="0" x2="209.0" y2="1350"/>
<line x1="-1112.5" y1="0" x2="237.5" y2="1350"/>
<line x1="-1084.0" y1="0" x2="266.0" y2="1350"/>
<line x1="-1055.5" y1="0" x2="294.5" y2="1350"/>
<line x1="-1027.0" y1="0" x2="323.0" y2="1350"/>
<line x1="-998.5" y1="0" x2="351.5" y2="1350"/>
<line x1="-970.0" y1="0" x2="380.0" y2="1350"/>
<line x1="-941.5" y1="0" x2="408.5" y2="1350"/>
<line x1="-913.0" y1="0" x2="437.0" y2="1350"/>
<line x1="-884.5" y1="0" x2="465.5" y2="1350"/>
<line x1="-856.0" y1="0" x2="494.0" y2="1350"/>
<line x1="-827.5" y1="0" x2="522.5" y2="1350"/>
<line x1="-799.0" y1="0" x2="551.0" y2="1350"/>
<line x1="-770.5" y1="0" x2="579.5" y2="1350"/>
<line x1="-742.0" y1="0" x2="608.0" y2="1350"/>
<line x1="-713.5" y1="0" x2="636.5" y2="1350"/>
<line x1="-685.0" y1="0" x2="665.0" y2="1350"/>
<line x1="-656.5" y1="0" x2="693.5" y2="1350"/>
<line x1="-628.0" y1="0" x2="722.0" y2="1350"/>
<line x1="-599.5" y1="0" x2="750.5" y2="1350"/>
<line x1="-571.0" y1="0" x2="779.0" y2="1350"/>
<line x1="-542.5" y1="0" x2="807.5" y2="1350"/>
<line x1="-514.0" y1="0" x2="836.0" y2="1350"/>
<line x1="-485.5" y1="0" x2="864.5" y2="1350"/>
<line x1="-457.0" y1="0" x2="893.0" y2="1350"/>
<line x1="-428.5" y1="0" x2="921.5" y2="1350"/>
<line x1="-400.0" y1="0" x2="950.0" y2="1350"/>
<line x1="-371.5" y1="0" x2="978.5" y2="1350"/>
<line x1="-343.0" y1="0" x2="1007.0" y2="1350"/>
<line x1="-314.5" y1="0" x2="1035.5" y2="1350"/>
<line x1="-286.0" y1="0" x2="1064.0" y2="1350"/>
<line x1="-257.5" y1="0" x2="1092.5" y2="1350"/>
<line x1="-229.0" y1="0" x2="1121.0" y2="1350"/>
<line x1="-200.5" y1="0" x2="1149.5" y2="1350"/>
<line x1="-172.0" y1="0" x2="1178.0" y2="1350"/>
<line x1="-143.5" y1="0" x2="1206.5" y2="1350"/>
<line x1="-115.0" y1="0" x2="1235.0" y2="1350"/>
<line x1="-86.5" y1="0" x2="1263.5" y2="1350"/>
<line x1="-58.0" y1="0" x2="1292.0" y2="1350"/>
<line x1="-29.5" y1="0" x2="1320.5" y2="1350"/>
<line x1="-1.0" y1="0" x2="1349.0" y2="1350"/>
<line x1="27.5" y1="0" x2="1377.5" y2="1350"/>
<line x1="56.0" y1="0" x2="1406.0" y2="1350"/>
<line x1="84.5" y1="0" x2="1434.5" y2="1350"/>
<line x1="113.0" y1="0" x2="1463.0" y2="1350"/>
<line x1="141.5" y1="0" x2="1491.5" y2="1350"/>
<line x1="170.0" y1="0" x2="1520.0" y2="1350"/>
<line x1="198.5" y1="0" x2="1548.5" y2="1350"/>
<line x1="227.0" y1="0" x2="1577.0" y2="1350"/>
<line x1="255.5" y1="0" x2="1605.5" y2="1350"/>
<line x1="284.0" y1="0" x2="1634.0" y2="1350"/>
<line x1="312.5" y1="0" x2="1662.5" y2="1350"/>
<line x1="341.0" y1="0" x2="1691.0" y2="1350"/>
<line x1="369.5" y1="0" x2="1719.5" y2="1350"/>
<line x1="398.0" y1="0" x2="1748.0" y2="1350"/>
<line x1="426.5" y1="0" x2="1776.5" y2="1350"/>
<line x1="455.0" y1="0" x2="1805.0" y2="1350"/>
<line x1="483.5" y1="0" x2="1833.5" y2="1350"/>
<line x1="512.0" y1="0" x2="1862.0" y2="1350"/>
<line x1="540.5" y1="0" x2="1890.5" y2="1350"/>
<line x1="569.0" y1="0" x2="1919.0" y2="1350"/>
<line x1="597.5" y1="0" x2="1947.5" y2="1350"/>
<line x1="626.0" y1="0" x2="1976.0" y2="1350"/>
<line x1="654.5" y1="0" x2="2004.5" y2="1350"/>
<line x1="683.0" y1="0" x2="2033.0" y2="1350"/>
<line x1="711.5" y1="0" x2="2061.5" y2="1350"/>
<line x1="740.0" y1="0" x2="2090.0" y2="1350"/>
<line x1="768.5" y1="0" x2="2118.5" y2="1350"/>
<line x1="797.0" y1="0" x2="2147.0" y2="1350"/>
<line x1="825.5" y1="0" x2="2175.5" y2="1350"/>
<line x1="854.0" y1="0" x2="2204.0" y2="1350"/>
<line x1="882.5" y1="0" x2="2232.5" y2="1350"/>
<line x1="911.0" y1="0" x2="2261.0" y2="1350"/>
<line x1="939.5" y1="0" x2="2289.5" y2="1350"/>
<line x1="968.0" y1="0" x2="2318.0" y2="1350"/>
<line x1="996.5" y1="0" x2="2346.5" y2="1350"/>
<line x1="1025.0" y1="0" x2="2375.0" y2="1350"/>
<line x1="1053.5" y1="0" x2="2403.5" y2="1350"/>
<line x1="1082.0" y1="0" x2="2432.0" y2="1350"/>
<line x1="1110.5" y1="0" x2="2460.5" y2="1350"/>
<line x1="1139.0" y1="0" x2="2489.0" y2="1350"/>
<line x1="1167.5" y1="0" x2="2517.5" y2="1350"/>
<line x1="1196.0" y1="0" x2="2546.0" y2="1350"/>
<line x1="1224.5" y1="0" x2="2574.5" y2="1350"/>
<line x1="1253.0" y1="0" x2="2603.0" y2="1350"/>
</g>
<path d="M252,183 L240,183 Q218,183 218,205 L218,1161 Q218,1179 236,1179 L1212,1179.5 Q1222,1179.5 1228,1167" stroke-width="3.3" />
<path d="M376,183 L1118,183 Q1128,183 1139,202 L1226,357" stroke-width="3.3" />
<path d="M363,238 L991,238 L996,273 L1067.3,273 L1070.5,238 L1099,238 Q1111,238 1117,248 L1186,368 L1187,1126 Q1187,1139 1175,1139 L856,1138 L657,1015 L339,1015" stroke-width="3.3" />
<path d="M296,1015 L272,1015 Q259,1015 259,1001 L259,554 C259,543 266,537 279,537 L409,537" stroke-width="3.3" />
<path d="M265,248 L259,255 L259,392 C259,403 266,409 279,409 L441,409" stroke-width="3.3" />
<line x1="424" y1="183" x2="424" y2="238" stroke-width="3.3" />
<path d="M734,1063 L901,1064 Q920,1064 920,1082 L920,1138" stroke-width="3.3" />
<line x1="293" y1="409" x2="293" y2="537" stroke-width="3.3" />
<line x1="334" y1="409" x2="334" y2="537" stroke-width="3.3" />
<path d="M390,409 L390,447 L388.5,461" stroke-width="3.3" />
<path d="M556,409 L684,409 Q703,409 703,421 L703,478 L637,535" stroke-width="3.3" />
<path d="M607,409 L607,447 L609,461" stroke-width="3.3" />
<line x1="587" y1="537" x2="637" y2="537" stroke-width="3.3" />
<rect x="248" y="152.5" width="132" height="20.5" stroke-width="2.9" />
<path d="M269,174 L265,188 L265,249 L271,255.5 L357,255.5 L363,249 L363,188 L359,174" stroke-width="2.9" />
<line x1="268" y1="185" x2="361" y2="185" stroke-width="2.6" />
<line x1="266" y1="191.5" x2="362" y2="191.5" stroke-width="2.6" />
<line x1="273.5" y1="193" x2="273.5" y2="248" stroke-width="1.4" />
<line x1="356" y1="193" x2="356" y2="248" stroke-width="1.4" />
<path d="M252,173 L269,173 L272,186 L258,186 Q252,184 252,178 Z" fill="#161616" stroke="none"/>
<rect x="362" y="173.5" width="14.5" height="9.5" stroke-width="1.6" />
<line x1="366" y1="181" x2="372" y2="176" stroke-width="1.0" />
<line x1="369" y1="182" x2="375" y2="177" stroke-width="1.0" />
<path d="M315,152.7 L315,213 M315,222.8 L315,299 M315,305.6 L315,315 M315,328 L315,457 M315,469.6 L315,479 M315,493.5 L315,551" stroke-width="1.4" />
<path d="M340,308 L657,308 L663,314 L663,370 L657,376.5 L340,376.5 L334,370 L334,314 Z" stroke-width="3.3" />
<line x1="336" y1="315" x2="661" y2="315" stroke-width="2.9" />
<line x1="336" y1="369.8" x2="661" y2="369.8" stroke-width="2.9" />
<path d="M345.8,303.5 L345.8,332.6 M345.8,341 L345.8,348 M345.8,355 L345.8,385.7" stroke-width="1.5" />
<path d="M651,303.5 L651,332.6 M651,341 L651,348 M651,355 L651,385.7" stroke-width="1.5" />
<line x1="568" y1="316" x2="584" y2="369" stroke-width="3.2" />
<line x1="580" y1="316" x2="597.5" y2="369" stroke-width="3.2" />
<line x1="591.6" y1="316" x2="612" y2="369" stroke-width="3.2" />
<path d="M464,297 L464,259 L466,257 L530,257 L532,259 L532,297" stroke-width="3.0" />
<line x1="464" y1="258" x2="532" y2="258" stroke-width="4.4" />
<path d="M437,307.5 L437,298 L559.3,298 L559.3,307.5" stroke-width="2.6" />
<line x1="441" y1="376.5" x2="441" y2="537" stroke-width="3.3" />
<line x1="556" y1="376.5" x2="556" y2="537" stroke-width="3.3" />
<path d="M498,242 L498,293 M498,301 L498,312 M498,330 L498,430 M498,442 L498,455 M498,467 L498,570 M498,579 L498,592 M498,604 L498,705 M498,717 L498,729 M498,741 L498,842 M498,853 L498,865 M498,878 L498,979 M498,991 L498,1003 M498,1016 L498,1124 M498,1133 L498,1145 M498,1156 L498,1203" stroke-width="1.4" />
<path d="M362,537 L362,450 Q362,445.7 367,445.7 L441,445.7" stroke-width="3.3" />
<line x1="363" y1="531" x2="440" y2="531" stroke-width="2.6" />
<path d="M388.3,461.3 L424.8,464 L423.5,524 L377,518.8 Z" stroke-width="3.0" />
<line x1="410" y1="537" x2="410" y2="572" stroke-width="3.3" />
<path d="M425,460 Q432,451 440,458" stroke-width="2.4" />
<line x1="393" y1="533" x2="393" y2="522" stroke-width="1.2" />
<path d="M635,537 L635,450 Q635,445.7 630,445.7 L556,445.7" stroke-width="3.3" />
<line x1="557" y1="531" x2="634" y2="531" stroke-width="2.6" />
<path d="M573,464 L609,461 L622,520 L575,524 Z" stroke-width="3.0" />
<path d="M556,458 Q564,451 572,460" stroke-width="2.4" />
<line x1="405" y1="462" x2="396" y2="522" stroke-width="1.3" stroke-dasharray="8 4"/>
<line x1="591" y1="462" x2="600" y2="522" stroke-width="1.3" stroke-dasharray="8 4"/>
<g clip-path="url(#hcu1)" stroke-width="1.3">
<line x1="-41.2" y1="0" x2="-1391.2" y2="1350"/>
<line x1="7.0" y1="0" x2="-1343.0" y2="1350"/>
<line x1="55.2" y1="0" x2="-1294.8" y2="1350"/>
<line x1="103.4" y1="0" x2="-1246.6" y2="1350"/>
<line x1="151.6" y1="0" x2="-1198.4" y2="1350"/>
<line x1="199.8" y1="0" x2="-1150.2" y2="1350"/>
<line x1="248.0" y1="0" x2="-1102.0" y2="1350"/>
<line x1="296.2" y1="0" x2="-1053.8" y2="1350"/>
<line x1="344.4" y1="0" x2="-1005.6" y2="1350"/>
<line x1="392.6" y1="0" x2="-957.4" y2="1350"/>
<line x1="440.8" y1="0" x2="-909.2" y2="1350"/>
<line x1="489.0" y1="0" x2="-861.0" y2="1350"/>
<line x1="537.2" y1="0" x2="-812.8" y2="1350"/>
<line x1="585.4" y1="0" x2="-764.6" y2="1350"/>
<line x1="633.6" y1="0" x2="-716.4" y2="1350"/>
<line x1="681.8" y1="0" x2="-668.2" y2="1350"/>
<line x1="730.0" y1="0" x2="-620.0" y2="1350"/>
<line x1="778.2" y1="0" x2="-571.8" y2="1350"/>
<line x1="826.4" y1="0" x2="-523.6" y2="1350"/>
<line x1="874.6" y1="0" x2="-475.4" y2="1350"/>
<line x1="922.8" y1="0" x2="-427.2" y2="1350"/>
<line x1="971.0" y1="0" x2="-379.0" y2="1350"/>
<line x1="1019.2" y1="0" x2="-330.8" y2="1350"/>
<line x1="1067.4" y1="0" x2="-282.6" y2="1350"/>
<line x1="1115.6" y1="0" x2="-234.4" y2="1350"/>
<line x1="1163.8" y1="0" x2="-186.2" y2="1350"/>
<line x1="1212.0" y1="0" x2="-138.0" y2="1350"/>
<line x1="1260.2" y1="0" x2="-89.8" y2="1350"/>
<line x1="1308.4" y1="0" x2="-41.6" y2="1350"/>
<line x1="1356.6" y1="0" x2="6.6" y2="1350"/>
<line x1="1404.8" y1="0" x2="54.8" y2="1350"/>
<line x1="1453.0" y1="0" x2="103.0" y2="1350"/>
<line x1="1501.2" y1="0" x2="151.2" y2="1350"/>
<line x1="1549.4" y1="0" x2="199.4" y2="1350"/>
<line x1="1597.6" y1="0" x2="247.6" y2="1350"/>
<line x1="1645.8" y1="0" x2="295.8" y2="1350"/>
<line x1="1694.0" y1="0" x2="344.0" y2="1350"/>
<line x1="1742.2" y1="0" x2="392.2" y2="1350"/>
<line x1="1790.4" y1="0" x2="440.4" y2="1350"/>
<line x1="1838.6" y1="0" x2="488.6" y2="1350"/>
<line x1="1886.8" y1="0" x2="536.8" y2="1350"/>
<line x1="1935.0" y1="0" x2="585.0" y2="1350"/>
<line x1="1983.2" y1="0" x2="633.2" y2="1350"/>
<line x1="2031.4" y1="0" x2="681.4" y2="1350"/>
<line x1="2079.6" y1="0" x2="729.6" y2="1350"/>
<line x1="2127.8" y1="0" x2="777.8" y2="1350"/>
<line x1="2176.0" y1="0" x2="826.0" y2="1350"/>
<line x1="2224.2" y1="0" x2="874.2" y2="1350"/>
<line x1="2272.4" y1="0" x2="922.4" y2="1350"/>
<line x1="2320.6" y1="0" x2="970.6" y2="1350"/>
<line x1="2368.8" y1="0" x2="1018.8" y2="1350"/>
<line x1="2417.0" y1="0" x2="1067.0" y2="1350"/>
<line x1="2465.2" y1="0" x2="1115.2" y2="1350"/>
<line x1="2513.4" y1="0" x2="1163.4" y2="1350"/>
<line x1="2561.6" y1="0" x2="1211.6" y2="1350"/>
<line x1="2609.8" y1="0" x2="1259.8" y2="1350"/>
</g>
<g clip-path="url(#hcu2)" stroke-width="1.3">
<line x1="-41.2" y1="0" x2="-1391.2" y2="1350"/>
<line x1="7.0" y1="0" x2="-1343.0" y2="1350"/>
<line x1="55.2" y1="0" x2="-1294.8" y2="1350"/>
<line x1="103.4" y1="0" x2="-1246.6" y2="1350"/>
<line x1="151.6" y1="0" x2="-1198.4" y2="1350"/>
<line x1="199.8" y1="0" x2="-1150.2" y2="1350"/>
<line x1="248.0" y1="0" x2="-1102.0" y2="1350"/>
<line x1="296.2" y1="0" x2="-1053.8" y2="1350"/>
<line x1="344.4" y1="0" x2="-1005.6" y2="1350"/>
<line x1="392.6" y1="0" x2="-957.4" y2="1350"/>
<line x1="440.8" y1="0" x2="-909.2" y2="1350"/>
<line x1="489.0" y1="0" x2="-861.0" y2="1350"/>
<line x1="537.2" y1="0" x2="-812.8" y2="1350"/>
<line x1="585.4" y1="0" x2="-764.6" y2="1350"/>
<line x1="633.6" y1="0" x2="-716.4" y2="1350"/>
<line x1="681.8" y1="0" x2="-668.2" y2="1350"/>
<line x1="730.0" y1="0" x2="-620.0" y2="1350"/>
<line x1="778.2" y1="0" x2="-571.8" y2="1350"/>
<line x1="826.4" y1="0" x2="-523.6" y2="1350"/>
<line x1="874.6" y1="0" x2="-475.4" y2="1350"/>
<line x1="922.8" y1="0" x2="-427.2" y2="1350"/>
<line x1="971.0" y1="0" x2="-379.0" y2="1350"/>
<line x1="1019.2" y1="0" x2="-330.8" y2="1350"/>
<line x1="1067.4" y1="0" x2="-282.6" y2="1350"/>
<line x1="1115.6" y1="0" x2="-234.4" y2="1350"/>
<line x1="1163.8" y1="0" x2="-186.2" y2="1350"/>
<line x1="1212.0" y1="0" x2="-138.0" y2="1350"/>
<line x1="1260.2" y1="0" x2="-89.8" y2="1350"/>
<line x1="1308.4" y1="0" x2="-41.6" y2="1350"/>
<line x1="1356.6" y1="0" x2="6.6" y2="1350"/>
<line x1="1404.8" y1="0" x2="54.8" y2="1350"/>
<line x1="1453.0" y1="0" x2="103.0" y2="1350"/>
<line x1="1501.2" y1="0" x2="151.2" y2="1350"/>
<line x1="1549.4" y1="0" x2="199.4" y2="1350"/>
<line x1="1597.6" y1="0" x2="247.6" y2="1350"/>
<line x1="1645.8" y1="0" x2="295.8" y2="1350"/>
<line x1="1694.0" y1="0" x2="344.0" y2="1350"/>
<line x1="1742.2" y1="0" x2="392.2" y2="1350"/>
<line x1="1790.4" y1="0" x2="440.4" y2="1350"/>
<line x1="1838.6" y1="0" x2="488.6" y2="1350"/>
<line x1="1886.8" y1="0" x2="536.8" y2="1350"/>
<line x1="1935.0" y1="0" x2="585.0" y2="1350"/>
<line x1="1983.2" y1="0" x2="633.2" y2="1350"/>
<line x1="2031.4" y1="0" x2="681.4" y2="1350"/>
<line x1="2079.6" y1="0" x2="729.6" y2="1350"/>
<line x1="2127.8" y1="0" x2="777.8" y2="1350"/>
<line x1="2176.0" y1="0" x2="826.0" y2="1350"/>
<line x1="2224.2" y1="0" x2="874.2" y2="1350"/>
<line x1="2272.4" y1="0" x2="922.4" y2="1350"/>
<line x1="2320.6" y1="0" x2="970.6" y2="1350"/>
<line x1="2368.8" y1="0" x2="1018.8" y2="1350"/>
<line x1="2417.0" y1="0" x2="1067.0" y2="1350"/>
<line x1="2465.2" y1="0" x2="1115.2" y2="1350"/>
<line x1="2513.4" y1="0" x2="1163.4" y2="1350"/>
<line x1="2561.6" y1="0" x2="1211.6" y2="1350"/>
<line x1="2609.8" y1="0" x2="1259.8" y2="1350"/>
</g>
<g clip-path="url(#hcu3)" stroke-width="1.3">
<line x1="-1351.0" y1="0" x2="-1.0" y2="1350"/>
<line x1="-1330.0" y1="0" x2="20.0" y2="1350"/>
<line x1="-1309.0" y1="0" x2="41.0" y2="1350"/>
<line x1="-1288.0" y1="0" x2="62.0" y2="1350"/>
<line x1="-1267.0" y1="0" x2="83.0" y2="1350"/>
<line x1="-1246.0" y1="0" x2="104.0" y2="1350"/>
<line x1="-1225.0" y1="0" x2="125.0" y2="1350"/>
<line x1="-1204.0" y1="0" x2="146.0" y2="1350"/>
<line x1="-1183.0" y1="0" x2="167.0" y2="1350"/>
<line x1="-1162.0" y1="0" x2="188.0" y2="1350"/>
<line x1="-1141.0" y1="0" x2="209.0" y2="1350"/>
<line x1="-1120.0" y1="0" x2="230.0" y2="1350"/>
<line x1="-1099.0" y1="0" x2="251.0" y2="1350"/>
<line x1="-1078.0" y1="0" x2="272.0" y2="1350"/>
<line x1="-1057.0" y1="0" x2="293.0" y2="1350"/>
<line x1="-1036.0" y1="0" x2="314.0" y2="1350"/>
<line x1="-1015.0" y1="0" x2="335.0" y2="1350"/>
<line x1="-994.0" y1="0" x2="356.0" y2="1350"/>
<line x1="-973.0" y1="0" x2="377.0" y2="1350"/>
<line x1="-952.0" y1="0" x2="398.0" y2="1350"/>
<line x1="-931.0" y1="0" x2="419.0" y2="1350"/>
<line x1="-910.0" y1="0" x2="440.0" y2="1350"/>
<line x1="-889.0" y1="0" x2="461.0" y2="1350"/>
<line x1="-868.0" y1="0" x2="482.0" y2="1350"/>
<line x1="-847.0" y1="0" x2="503.0" y2="1350"/>
<line x1="-826.0" y1="0" x2="524.0" y2="1350"/>
<line x1="-805.0" y1="0" x2="545.0" y2="1350"/>
<line x1="-784.0" y1="0" x2="566.0" y2="1350"/>
<line x1="-763.0" y1="0" x2="587.0" y2="1350"/>
<line x1="-742.0" y1="0" x2="608.0" y2="1350"/>
<line x1="-721.0" y1="0" x2="629.0" y2="1350"/>
<line x1="-700.0" y1="0" x2="650.0" y2="1350"/>
<line x1="-679.0" y1="0" x2="671.0" y2="1350"/>
<line x1="-658.0" y1="0" x2="692.0" y2="1350"/>
<line x1="-637.0" y1="0" x2="713.0" y2="1350"/>
<line x1="-616.0" y1="0" x2="734.0" y2="1350"/>
<line x1="-595.0" y1="0" x2="755.0" y2="1350"/>
<line x1="-574.0" y1="0" x2="776.0" y2="1350"/>
<line x1="-553.0" y1="0" x2="797.0" y2="1350"/>
<line x1="-532.0" y1="0" x2="818.0" y2="1350"/>
<line x1="-511.0" y1="0" x2="839.0" y2="1350"/>
<line x1="-490.0" y1="0" x2="860.0" y2="1350"/>
<line x1="-469.0" y1="0" x2="881.0" y2="1350"/>
<line x1="-448.0" y1="0" x2="902.0" y2="1350"/>
<line x1="-427.0" y1="0" x2="923.0" y2="1350"/>
<line x1="-406.0" y1="0" x2="944.0" y2="1350"/>
<line x1="-385.0" y1="0" x2="965.0" y2="1350"/>
<line x1="-364.0" y1="0" x2="986.0" y2="1350"/>
<line x1="-343.0" y1="0" x2="1007.0" y2="1350"/>
<line x1="-322.0" y1="0" x2="1028.0" y2="1350"/>
<line x1="-301.0" y1="0" x2="1049.0" y2="1350"/>
<line x1="-280.0" y1="0" x2="1070.0" y2="1350"/>
<line x1="-259.0" y1="0" x2="1091.0" y2="1350"/>
<line x1="-238.0" y1="0" x2="1112.0" y2="1350"/>
<line x1="-217.0" y1="0" x2="1133.0" y2="1350"/>
<line x1="-196.0" y1="0" x2="1154.0" y2="1350"/>
<line x1="-175.0" y1="0" x2="1175.0" y2="1350"/>
<line x1="-154.0" y1="0" x2="1196.0" y2="1350"/>
<line x1="-133.0" y1="0" x2="1217.0" y2="1350"/>
<line x1="-112.0" y1="0" x2="1238.0" y2="1350"/>
<line x1="-91.0" y1="0" x2="1259.0" y2="1350"/>
<line x1="-70.0" y1="0" x2="1280.0" y2="1350"/>
<line x1="-49.0" y1="0" x2="1301.0" y2="1350"/>
<line x1="-28.0" y1="0" x2="1322.0" y2="1350"/>
<line x1="-7.0" y1="0" x2="1343.0" y2="1350"/>
<line x1="14.0" y1="0" x2="1364.0" y2="1350"/>
<line x1="35.0" y1="0" x2="1385.0" y2="1350"/>
<line x1="56.0" y1="0" x2="1406.0" y2="1350"/>
<line x1="77.0" y1="0" x2="1427.0" y2="1350"/>
<line x1="98.0" y1="0" x2="1448.0" y2="1350"/>
<line x1="119.0" y1="0" x2="1469.0" y2="1350"/>
<line x1="140.0" y1="0" x2="1490.0" y2="1350"/>
<line x1="161.0" y1="0" x2="1511.0" y2="1350"/>
<line x1="182.0" y1="0" x2="1532.0" y2="1350"/>
<line x1="203.0" y1="0" x2="1553.0" y2="1350"/>
<line x1="224.0" y1="0" x2="1574.0" y2="1350"/>
<line x1="245.0" y1="0" x2="1595.0" y2="1350"/>
<line x1="266.0" y1="0" x2="1616.0" y2="1350"/>
<line x1="287.0" y1="0" x2="1637.0" y2="1350"/>
<line x1="308.0" y1="0" x2="1658.0" y2="1350"/>
<line x1="329.0" y1="0" x2="1679.0" y2="1350"/>
<line x1="350.0" y1="0" x2="1700.0" y2="1350"/>
<line x1="371.0" y1="0" x2="1721.0" y2="1350"/>
<line x1="392.0" y1="0" x2="1742.0" y2="1350"/>
<line x1="413.0" y1="0" x2="1763.0" y2="1350"/>
<line x1="434.0" y1="0" x2="1784.0" y2="1350"/>
<line x1="455.0" y1="0" x2="1805.0" y2="1350"/>
<line x1="476.0" y1="0" x2="1826.0" y2="1350"/>
<line x1="497.0" y1="0" x2="1847.0" y2="1350"/>
<line x1="518.0" y1="0" x2="1868.0" y2="1350"/>
<line x1="539.0" y1="0" x2="1889.0" y2="1350"/>
<line x1="560.0" y1="0" x2="1910.0" y2="1350"/>
<line x1="581.0" y1="0" x2="1931.0" y2="1350"/>
<line x1="602.0" y1="0" x2="1952.0" y2="1350"/>
<line x1="623.0" y1="0" x2="1973.0" y2="1350"/>
<line x1="644.0" y1="0" x2="1994.0" y2="1350"/>
<line x1="665.0" y1="0" x2="2015.0" y2="1350"/>
<line x1="686.0" y1="0" x2="2036.0" y2="1350"/>
<line x1="707.0" y1="0" x2="2057.0" y2="1350"/>
<line x1="728.0" y1="0" x2="2078.0" y2="1350"/>
<line x1="749.0" y1="0" x2="2099.0" y2="1350"/>
<line x1="770.0" y1="0" x2="2120.0" y2="1350"/>
<line x1="791.0" y1="0" x2="2141.0" y2="1350"/>
<line x1="812.0" y1="0" x2="2162.0" y2="1350"/>
<line x1="833.0" y1="0" x2="2183.0" y2="1350"/>
<line x1="854.0" y1="0" x2="2204.0" y2="1350"/>
<line x1="875.0" y1="0" x2="2225.0" y2="1350"/>
<line x1="896.0" y1="0" x2="2246.0" y2="1350"/>
<line x1="917.0" y1="0" x2="2267.0" y2="1350"/>
<line x1="938.0" y1="0" x2="2288.0" y2="1350"/>
<line x1="959.0" y1="0" x2="2309.0" y2="1350"/>
<line x1="980.0" y1="0" x2="2330.0" y2="1350"/>
<line x1="1001.0" y1="0" x2="2351.0" y2="1350"/>
<line x1="1022.0" y1="0" x2="2372.0" y2="1350"/>
<line x1="1043.0" y1="0" x2="2393.0" y2="1350"/>
<line x1="1064.0" y1="0" x2="2414.0" y2="1350"/>
<line x1="1085.0" y1="0" x2="2435.0" y2="1350"/>
<line x1="1106.0" y1="0" x2="2456.0" y2="1350"/>
<line x1="1127.0" y1="0" x2="2477.0" y2="1350"/>
<line x1="1148.0" y1="0" x2="2498.0" y2="1350"/>
<line x1="1169.0" y1="0" x2="2519.0" y2="1350"/>
<line x1="1190.0" y1="0" x2="2540.0" y2="1350"/>
<line x1="1211.0" y1="0" x2="2561.0" y2="1350"/>
<line x1="1232.0" y1="0" x2="2582.0" y2="1350"/>
</g>
<g clip-path="url(#hcu4)" stroke-width="1.3">
<line x1="-1351.0" y1="0" x2="-1.0" y2="1350"/>
<line x1="-1330.0" y1="0" x2="20.0" y2="1350"/>
<line x1="-1309.0" y1="0" x2="41.0" y2="1350"/>
<line x1="-1288.0" y1="0" x2="62.0" y2="1350"/>
<line x1="-1267.0" y1="0" x2="83.0" y2="1350"/>
<line x1="-1246.0" y1="0" x2="104.0" y2="1350"/>
<line x1="-1225.0" y1="0" x2="125.0" y2="1350"/>
<line x1="-1204.0" y1="0" x2="146.0" y2="1350"/>
<line x1="-1183.0" y1="0" x2="167.0" y2="1350"/>
<line x1="-1162.0" y1="0" x2="188.0" y2="1350"/>
<line x1="-1141.0" y1="0" x2="209.0" y2="1350"/>
<line x1="-1120.0" y1="0" x2="230.0" y2="1350"/>
<line x1="-1099.0" y1="0" x2="251.0" y2="1350"/>
<line x1="-1078.0" y1="0" x2="272.0" y2="1350"/>
<line x1="-1057.0" y1="0" x2="293.0" y2="1350"/>
<line x1="-1036.0" y1="0" x2="314.0" y2="1350"/>
<line x1="-1015.0" y1="0" x2="335.0" y2="1350"/>
<line x1="-994.0" y1="0" x2="356.0" y2="1350"/>
<line x1="-973.0" y1="0" x2="377.0" y2="1350"/>
<line x1="-952.0" y1="0" x2="398.0" y2="1350"/>
<line x1="-931.0" y1="0" x2="419.0" y2="1350"/>
<line x1="-910.0" y1="0" x2="440.0" y2="1350"/>
<line x1="-889.0" y1="0" x2="461.0" y2="1350"/>
<line x1="-868.0" y1="0" x2="482.0" y2="1350"/>
<line x1="-847.0" y1="0" x2="503.0" y2="1350"/>
<line x1="-826.0" y1="0" x2="524.0" y2="1350"/>
<line x1="-805.0" y1="0" x2="545.0" y2="1350"/>
<line x1="-784.0" y1="0" x2="566.0" y2="1350"/>
<line x1="-763.0" y1="0" x2="587.0" y2="1350"/>
<line x1="-742.0" y1="0" x2="608.0" y2="1350"/>
<line x1="-721.0" y1="0" x2="629.0" y2="1350"/>
<line x1="-700.0" y1="0" x2="650.0" y2="1350"/>
<line x1="-679.0" y1="0" x2="671.0" y2="1350"/>
<line x1="-658.0" y1="0" x2="692.0" y2="1350"/>
<line x1="-637.0" y1="0" x2="713.0" y2="1350"/>
<line x1="-616.0" y1="0" x2="734.0" y2="1350"/>
<line x1="-595.0" y1="0" x2="755.0" y2="1350"/>
<line x1="-574.0" y1="0" x2="776.0" y2="1350"/>
<line x1="-553.0" y1="0" x2="797.0" y2="1350"/>
<line x1="-532.0" y1="0" x2="818.0" y2="1350"/>
<line x1="-511.0" y1="0" x2="839.0" y2="1350"/>
<line x1="-490.0" y1="0" x2="860.0" y2="1350"/>
<line x1="-469.0" y1="0" x2="881.0" y2="1350"/>
<line x1="-448.0" y1="0" x2="902.0" y2="1350"/>
<line x1="-427.0" y1="0" x2="923.0" y2="1350"/>
<line x1="-406.0" y1="0" x2="944.0" y2="1350"/>
<line x1="-385.0" y1="0" x2="965.0" y2="1350"/>
<line x1="-364.0" y1="0" x2="986.0" y2="1350"/>
<line x1="-343.0" y1="0" x2="1007.0" y2="1350"/>
<line x1="-322.0" y1="0" x2="1028.0" y2="1350"/>
<line x1="-301.0" y1="0" x2="1049.0" y2="1350"/>
<line x1="-280.0" y1="0" x2="1070.0" y2="1350"/>
<line x1="-259.0" y1="0" x2="1091.0" y2="1350"/>
<line x1="-238.0" y1="0" x2="1112.0" y2="1350"/>
<line x1="-217.0" y1="0" x2="1133.0" y2="1350"/>
<line x1="-196.0" y1="0" x2="1154.0" y2="1350"/>
<line x1="-175.0" y1="0" x2="1175.0" y2="1350"/>
<line x1="-154.0" y1="0" x2="1196.0" y2="1350"/>
<line x1="-133.0" y1="0" x2="1217.0" y2="1350"/>
<line x1="-112.0" y1="0" x2="1238.0" y2="1350"/>
<line x1="-91.0" y1="0" x2="1259.0" y2="1350"/>
<line x1="-70.0" y1="0" x2="1280.0" y2="1350"/>
<line x1="-49.0" y1="0" x2="1301.0" y2="1350"/>
<line x1="-28.0" y1="0" x2="1322.0" y2="1350"/>
<line x1="-7.0" y1="0" x2="1343.0" y2="1350"/>
<line x1="14.0" y1="0" x2="1364.0" y2="1350"/>
<line x1="35.0" y1="0" x2="1385.0" y2="1350"/>
<line x1="56.0" y1="0" x2="1406.0" y2="1350"/>
<line x1="77.0" y1="0" x2="1427.0" y2="1350"/>
<line x1="98.0" y1="0" x2="1448.0" y2="1350"/>
<line x1="119.0" y1="0" x2="1469.0" y2="1350"/>
<line x1="140.0" y1="0" x2="1490.0" y2="1350"/>
<line x1="161.0" y1="0" x2="1511.0" y2="1350"/>
<line x1="182.0" y1="0" x2="1532.0" y2="1350"/>
<line x1="203.0" y1="0" x2="1553.0" y2="1350"/>
<line x1="224.0" y1="0" x2="1574.0" y2="1350"/>
<line x1="245.0" y1="0" x2="1595.0" y2="1350"/>
<line x1="266.0" y1="0" x2="1616.0" y2="1350"/>
<line x1="287.0" y1="0" x2="1637.0" y2="1350"/>
<line x1="308.0" y1="0" x2="1658.0" y2="1350"/>
<line x1="329.0" y1="0" x2="1679.0" y2="1350"/>
<line x1="350.0" y1="0" x2="1700.0" y2="1350"/>
<line x1="371.0" y1="0" x2="1721.0" y2="1350"/>
<line x1="392.0" y1="0" x2="1742.0" y2="1350"/>
<line x1="413.0" y1="0" x2="1763.0" y2="1350"/>
<line x1="434.0" y1="0" x2="1784.0" y2="1350"/>
<line x1="455.0" y1="0" x2="1805.0" y2="1350"/>
<line x1="476.0" y1="0" x2="1826.0" y2="1350"/>
<line x1="497.0" y1="0" x2="1847.0" y2="1350"/>
<line x1="518.0" y1="0" x2="1868.0" y2="1350"/>
<line x1="539.0" y1="0" x2="1889.0" y2="1350"/>
<line x1="560.0" y1="0" x2="1910.0" y2="1350"/>
<line x1="581.0" y1="0" x2="1931.0" y2="1350"/>
<line x1="602.0" y1="0" x2="1952.0" y2="1350"/>
<line x1="623.0" y1="0" x2="1973.0" y2="1350"/>
<line x1="644.0" y1="0" x2="1994.0" y2="1350"/>
<line x1="665.0" y1="0" x2="2015.0" y2="1350"/>
<line x1="686.0" y1="0" x2="2036.0" y2="1350"/>
<line x1="707.0" y1="0" x2="2057.0" y2="1350"/>
<line x1="728.0" y1="0" x2="2078.0" y2="1350"/>
<line x1="749.0" y1="0" x2="2099.0" y2="1350"/>
<line x1="770.0" y1="0" x2="2120.0" y2="1350"/>
<line x1="791.0" y1="0" x2="2141.0" y2="1350"/>
<line x1="812.0" y1="0" x2="2162.0" y2="1350"/>
<line x1="833.0" y1="0" x2="2183.0" y2="1350"/>
<line x1="854.0" y1="0" x2="2204.0" y2="1350"/>
<line x1="875.0" y1="0" x2="2225.0" y2="1350"/>
<line x1="896.0" y1="0" x2="2246.0" y2="1350"/>
<line x1="917.0" y1="0" x2="2267.0" y2="1350"/>
<line x1="938.0" y1="0" x2="2288.0" y2="1350"/>
<line x1="959.0" y1="0" x2="2309.0" y2="1350"/>
<line x1="980.0" y1="0" x2="2330.0" y2="1350"/>
<line x1="1001.0" y1="0" x2="2351.0" y2="1350"/>
<line x1="1022.0" y1="0" x2="2372.0" y2="1350"/>
<line x1="1043.0" y1="0" x2="2393.0" y2="1350"/>
<line x1="1064.0" y1="0" x2="2414.0" y2="1350"/>
<line x1="1085.0" y1="0" x2="2435.0" y2="1350"/>
<line x1="1106.0" y1="0" x2="2456.0" y2="1350"/>
<line x1="1127.0" y1="0" x2="2477.0" y2="1350"/>
<line x1="1148.0" y1="0" x2="2498.0" y2="1350"/>
<line x1="1169.0" y1="0" x2="2519.0" y2="1350"/>
<line x1="1190.0" y1="0" x2="2540.0" y2="1350"/>
<line x1="1211.0" y1="0" x2="2561.0" y2="1350"/>
<line x1="1232.0" y1="0" x2="2582.0" y2="1350"/>
</g>
<g clip-path="url(#hcn3)" stroke-width="1.3">
<line x1="0.0" y1="0" x2="-1350.0" y2="1350"/>
<line x1="21.0" y1="0" x2="-1329.0" y2="1350"/>
<line x1="42.0" y1="0" x2="-1308.0" y2="1350"/>
<line x1="63.0" y1="0" x2="-1287.0" y2="1350"/>
<line x1="84.0" y1="0" x2="-1266.0" y2="1350"/>
<line x1="105.0" y1="0" x2="-1245.0" y2="1350"/>
<line x1="126.0" y1="0" x2="-1224.0" y2="1350"/>
<line x1="147.0" y1="0" x2="-1203.0" y2="1350"/>
<line x1="168.0" y1="0" x2="-1182.0" y2="1350"/>
<line x1="189.0" y1="0" x2="-1161.0" y2="1350"/>
<line x1="210.0" y1="0" x2="-1140.0" y2="1350"/>
<line x1="231.0" y1="0" x2="-1119.0" y2="1350"/>
<line x1="252.0" y1="0" x2="-1098.0" y2="1350"/>
<line x1="273.0" y1="0" x2="-1077.0" y2="1350"/>
<line x1="294.0" y1="0" x2="-1056.0" y2="1350"/>
<line x1="315.0" y1="0" x2="-1035.0" y2="1350"/>
<line x1="336.0" y1="0" x2="-1014.0" y2="1350"/>
<line x1="357.0" y1="0" x2="-993.0" y2="1350"/>
<line x1="378.0" y1="0" x2="-972.0" y2="1350"/>
<line x1="399.0" y1="0" x2="-951.0" y2="1350"/>
<line x1="420.0" y1="0" x2="-930.0" y2="1350"/>
<line x1="441.0" y1="0" x2="-909.0" y2="1350"/>
<line x1="462.0" y1="0" x2="-888.0" y2="1350"/>
<line x1="483.0" y1="0" x2="-867.0" y2="1350"/>
<line x1="504.0" y1="0" x2="-846.0" y2="1350"/>
<line x1="525.0" y1="0" x2="-825.0" y2="1350"/>
<line x1="546.0" y1="0" x2="-804.0" y2="1350"/>
<line x1="567.0" y1="0" x2="-783.0" y2="1350"/>
<line x1="588.0" y1="0" x2="-762.0" y2="1350"/>
<line x1="609.0" y1="0" x2="-741.0" y2="1350"/>
<line x1="630.0" y1="0" x2="-720.0" y2="1350"/>
<line x1="651.0" y1="0" x2="-699.0" y2="1350"/>
<line x1="672.0" y1="0" x2="-678.0" y2="1350"/>
<line x1="693.0" y1="0" x2="-657.0" y2="1350"/>
<line x1="714.0" y1="0" x2="-636.0" y2="1350"/>
<line x1="735.0" y1="0" x2="-615.0" y2="1350"/>
<line x1="756.0" y1="0" x2="-594.0" y2="1350"/>
<line x1="777.0" y1="0" x2="-573.0" y2="1350"/>
<line x1="798.0" y1="0" x2="-552.0" y2="1350"/>
<line x1="819.0" y1="0" x2="-531.0" y2="1350"/>
<line x1="840.0" y1="0" x2="-510.0" y2="1350"/>
<line x1="861.0" y1="0" x2="-489.0" y2="1350"/>
<line x1="882.0" y1="0" x2="-468.0" y2="1350"/>
<line x1="903.0" y1="0" x2="-447.0" y2="1350"/>
<line x1="924.0" y1="0" x2="-426.0" y2="1350"/>
<line x1="945.0" y1="0" x2="-405.0" y2="1350"/>
<line x1="966.0" y1="0" x2="-384.0" y2="1350"/>
<line x1="987.0" y1="0" x2="-363.0" y2="1350"/>
<line x1="1008.0" y1="0" x2="-342.0" y2="1350"/>
<line x1="1029.0" y1="0" x2="-321.0" y2="1350"/>
<line x1="1050.0" y1="0" x2="-300.0" y2="1350"/>
<line x1="1071.0" y1="0" x2="-279.0" y2="1350"/>
<line x1="1092.0" y1="0" x2="-258.0" y2="1350"/>
<line x1="1113.0" y1="0" x2="-237.0" y2="1350"/>
<line x1="1134.0" y1="0" x2="-216.0" y2="1350"/>
<line x1="1155.0" y1="0" x2="-195.0" y2="1350"/>
<line x1="1176.0" y1="0" x2="-174.0" y2="1350"/>
<line x1="1197.0" y1="0" x2="-153.0" y2="1350"/>
<line x1="1218.0" y1="0" x2="-132.0" y2="1350"/>
<line x1="1239.0" y1="0" x2="-111.0" y2="1350"/>
<line x1="1260.0" y1="0" x2="-90.0" y2="1350"/>
<line x1="1281.0" y1="0" x2="-69.0" y2="1350"/>
<line x1="1302.0" y1="0" x2="-48.0" y2="1350"/>
<line x1="1323.0" y1="0" x2="-27.0" y2="1350"/>
<line x1="1344.0" y1="0" x2="-6.0" y2="1350"/>
<line x1="1365.0" y1="0" x2="15.0" y2="1350"/>
<line x1="1386.0" y1="0" x2="36.0" y2="1350"/>
<line x1="1407.0" y1="0" x2="57.0" y2="1350"/>
<line x1="1428.0" y1="0" x2="78.0" y2="1350"/>
<line x1="1449.0" y1="0" x2="99.0" y2="1350"/>
<line x1="1470.0" y1="0" x2="120.0" y2="1350"/>
<line x1="1491.0" y1="0" x2="141.0" y2="1350"/>
<line x1="1512.0" y1="0" x2="162.0" y2="1350"/>
<line x1="1533.0" y1="0" x2="183.0" y2="1350"/>
<line x1="1554.0" y1="0" x2="204.0" y2="1350"/>
<line x1="1575.0" y1="0" x2="225.0" y2="1350"/>
<line x1="1596.0" y1="0" x2="246.0" y2="1350"/>
<line x1="1617.0" y1="0" x2="267.0" y2="1350"/>
<line x1="1638.0" y1="0" x2="288.0" y2="1350"/>
<line x1="1659.0" y1="0" x2="309.0" y2="1350"/>
<line x1="1680.0" y1="0" x2="330.0" y2="1350"/>
<line x1="1701.0" y1="0" x2="351.0" y2="1350"/>
<line x1="1722.0" y1="0" x2="372.0" y2="1350"/>
<line x1="1743.0" y1="0" x2="393.0" y2="1350"/>
<line x1="1764.0" y1="0" x2="414.0" y2="1350"/>
<line x1="1785.0" y1="0" x2="435.0" y2="1350"/>
<line x1="1806.0" y1="0" x2="456.0" y2="1350"/>
<line x1="1827.0" y1="0" x2="477.0" y2="1350"/>
<line x1="1848.0" y1="0" x2="498.0" y2="1350"/>
<line x1="1869.0" y1="0" x2="519.0" y2="1350"/>
<line x1="1890.0" y1="0" x2="540.0" y2="1350"/>
<line x1="1911.0" y1="0" x2="561.0" y2="1350"/>
<line x1="1932.0" y1="0" x2="582.0" y2="1350"/>
<line x1="1953.0" y1="0" x2="603.0" y2="1350"/>
<line x1="1974.0" y1="0" x2="624.0" y2="1350"/>
<line x1="1995.0" y1="0" x2="645.0" y2="1350"/>
<line x1="2016.0" y1="0" x2="666.0" y2="1350"/>
<line x1="2037.0" y1="0" x2="687.0" y2="1350"/>
<line x1="2058.0" y1="0" x2="708.0" y2="1350"/>
<line x1="2079.0" y1="0" x2="729.0" y2="1350"/>
<line x1="2100.0" y1="0" x2="750.0" y2="1350"/>
<line x1="2121.0" y1="0" x2="771.0" y2="1350"/>
<line x1="2142.0" y1="0" x2="792.0" y2="1350"/>
<line x1="2163.0" y1="0" x2="813.0" y2="1350"/>
<line x1="2184.0" y1="0" x2="834.0" y2="1350"/>
<line x1="2205.0" y1="0" x2="855.0" y2="1350"/>
<line x1="2226.0" y1="0" x2="876.0" y2="1350"/>
<line x1="2247.0" y1="0" x2="897.0" y2="1350"/>
<line x1="2268.0" y1="0" x2="918.0" y2="1350"/>
<line x1="2289.0" y1="0" x2="939.0" y2="1350"/>
<line x1="2310.0" y1="0" x2="960.0" y2="1350"/>
<line x1="2331.0" y1="0" x2="981.0" y2="1350"/>
<line x1="2352.0" y1="0" x2="1002.0" y2="1350"/>
<line x1="2373.0" y1="0" x2="1023.0" y2="1350"/>
<line x1="2394.0" y1="0" x2="1044.0" y2="1350"/>
<line x1="2415.0" y1="0" x2="1065.0" y2="1350"/>
<line x1="2436.0" y1="0" x2="1086.0" y2="1350"/>
<line x1="2457.0" y1="0" x2="1107.0" y2="1350"/>
<line x1="2478.0" y1="0" x2="1128.0" y2="1350"/>
<line x1="2499.0" y1="0" x2="1149.0" y2="1350"/>
<line x1="2520.0" y1="0" x2="1170.0" y2="1350"/>
<line x1="2541.0" y1="0" x2="1191.0" y2="1350"/>
<line x1="2562.0" y1="0" x2="1212.0" y2="1350"/>
<line x1="2583.0" y1="0" x2="1233.0" y2="1350"/>
</g>
<g clip-path="url(#hcn4)" stroke-width="1.3">
<line x1="0.0" y1="0" x2="-1350.0" y2="1350"/>
<line x1="21.0" y1="0" x2="-1329.0" y2="1350"/>
<line x1="42.0" y1="0" x2="-1308.0" y2="1350"/>
<line x1="63.0" y1="0" x2="-1287.0" y2="1350"/>
<line x1="84.0" y1="0" x2="-1266.0" y2="1350"/>
<line x1="105.0" y1="0" x2="-1245.0" y2="1350"/>
<line x1="126.0" y1="0" x2="-1224.0" y2="1350"/>
<line x1="147.0" y1="0" x2="-1203.0" y2="1350"/>
<line x1="168.0" y1="0" x2="-1182.0" y2="1350"/>
<line x1="189.0" y1="0" x2="-1161.0" y2="1350"/>
<line x1="210.0" y1="0" x2="-1140.0" y2="1350"/>
<line x1="231.0" y1="0" x2="-1119.0" y2="1350"/>
<line x1="252.0" y1="0" x2="-1098.0" y2="1350"/>
<line x1="273.0" y1="0" x2="-1077.0" y2="1350"/>
<line x1="294.0" y1="0" x2="-1056.0" y2="1350"/>
<line x1="315.0" y1="0" x2="-1035.0" y2="1350"/>
<line x1="336.0" y1="0" x2="-1014.0" y2="1350"/>
<line x1="357.0" y1="0" x2="-993.0" y2="1350"/>
<line x1="378.0" y1="0" x2="-972.0" y2="1350"/>
<line x1="399.0" y1="0" x2="-951.0" y2="1350"/>
<line x1="420.0" y1="0" x2="-930.0" y2="1350"/>
<line x1="441.0" y1="0" x2="-909.0" y2="1350"/>
<line x1="462.0" y1="0" x2="-888.0" y2="1350"/>
<line x1="483.0" y1="0" x2="-867.0" y2="1350"/>
<line x1="504.0" y1="0" x2="-846.0" y2="1350"/>
<line x1="525.0" y1="0" x2="-825.0" y2="1350"/>
<line x1="546.0" y1="0" x2="-804.0" y2="1350"/>
<line x1="567.0" y1="0" x2="-783.0" y2="1350"/>
<line x1="588.0" y1="0" x2="-762.0" y2="1350"/>
<line x1="609.0" y1="0" x2="-741.0" y2="1350"/>
<line x1="630.0" y1="0" x2="-720.0" y2="1350"/>
<line x1="651.0" y1="0" x2="-699.0" y2="1350"/>
<line x1="672.0" y1="0" x2="-678.0" y2="1350"/>
<line x1="693.0" y1="0" x2="-657.0" y2="1350"/>
<line x1="714.0" y1="0" x2="-636.0" y2="1350"/>
<line x1="735.0" y1="0" x2="-615.0" y2="1350"/>
<line x1="756.0" y1="0" x2="-594.0" y2="1350"/>
<line x1="777.0" y1="0" x2="-573.0" y2="1350"/>
<line x1="798.0" y1="0" x2="-552.0" y2="1350"/>
<line x1="819.0" y1="0" x2="-531.0" y2="1350"/>
<line x1="840.0" y1="0" x2="-510.0" y2="1350"/>
<line x1="861.0" y1="0" x2="-489.0" y2="1350"/>
<line x1="882.0" y1="0" x2="-468.0" y2="1350"/>
<line x1="903.0" y1="0" x2="-447.0" y2="1350"/>
<line x1="924.0" y1="0" x2="-426.0" y2="1350"/>
<line x1="945.0" y1="0" x2="-405.0" y2="1350"/>
<line x1="966.0" y1="0" x2="-384.0" y2="1350"/>
<line x1="987.0" y1="0" x2="-363.0" y2="1350"/>
<line x1="1008.0" y1="0" x2="-342.0" y2="1350"/>
<line x1="1029.0" y1="0" x2="-321.0" y2="1350"/>
<line x1="1050.0" y1="0" x2="-300.0" y2="1350"/>
<line x1="1071.0" y1="0" x2="-279.0" y2="1350"/>
<line x1="1092.0" y1="0" x2="-258.0" y2="1350"/>
<line x1="1113.0" y1="0" x2="-237.0" y2="1350"/>
<line x1="1134.0" y1="0" x2="-216.0" y2="1350"/>
<line x1="1155.0" y1="0" x2="-195.0" y2="1350"/>
<line x1="1176.0" y1="0" x2="-174.0" y2="1350"/>
<line x1="1197.0" y1="0" x2="-153.0" y2="1350"/>
<line x1="1218.0" y1="0" x2="-132.0" y2="1350"/>
<line x1="1239.0" y1="0" x2="-111.0" y2="1350"/>
<line x1="1260.0" y1="0" x2="-90.0" y2="1350"/>
<line x1="1281.0" y1="0" x2="-69.0" y2="1350"/>
<line x1="1302.0" y1="0" x2="-48.0" y2="1350"/>
<line x1="1323.0" y1="0" x2="-27.0" y2="1350"/>
<line x1="1344.0" y1="0" x2="-6.0" y2="1350"/>
<line x1="1365.0" y1="0" x2="15.0" y2="1350"/>
<line x1="1386.0" y1="0" x2="36.0" y2="1350"/>
<line x1="1407.0" y1="0" x2="57.0" y2="1350"/>
<line x1="1428.0" y1="0" x2="78.0" y2="1350"/>
<line x1="1449.0" y1="0" x2="99.0" y2="1350"/>
<line x1="1470.0" y1="0" x2="120.0" y2="1350"/>
<line x1="1491.0" y1="0" x2="141.0" y2="1350"/>
<line x1="1512.0" y1="0" x2="162.0" y2="1350"/>
<line x1="1533.0" y1="0" x2="183.0" y2="1350"/>
<line x1="1554.0" y1="0" x2="204.0" y2="1350"/>
<line x1="1575.0" y1="0" x2="225.0" y2="1350"/>
<line x1="1596.0" y1="0" x2="246.0" y2="1350"/>
<line x1="1617.0" y1="0" x2="267.0" y2="1350"/>
<line x1="1638.0" y1="0" x2="288.0" y2="1350"/>
<line x1="1659.0" y1="0" x2="309.0" y2="1350"/>
<line x1="1680.0" y1="0" x2="330.0" y2="1350"/>
<line x1="1701.0" y1="0" x2="351.0" y2="1350"/>
<line x1="1722.0" y1="0" x2="372.0" y2="1350"/>
<line x1="1743.0" y1="0" x2="393.0" y2="1350"/>
<line x1="1764.0" y1="0" x2="414.0" y2="1350"/>
<line x1="1785.0" y1="0" x2="435.0" y2="1350"/>
<line x1="1806.0" y1="0" x2="456.0" y2="1350"/>
<line x1="1827.0" y1="0" x2="477.0" y2="1350"/>
<line x1="1848.0" y1="0" x2="498.0" y2="1350"/>
<line x1="1869.0" y1="0" x2="519.0" y2="1350"/>
<line x1="1890.0" y1="0" x2="540.0" y2="1350"/>
<line x1="1911.0" y1="0" x2="561.0" y2="1350"/>
<line x1="1932.0" y1="0" x2="582.0" y2="1350"/>
<line x1="1953.0" y1="0" x2="603.0" y2="1350"/>
<line x1="1974.0" y1="0" x2="624.0" y2="1350"/>
<line x1="1995.0" y1="0" x2="645.0" y2="1350"/>
<line x1="2016.0" y1="0" x2="666.0" y2="1350"/>
<line x1="2037.0" y1="0" x2="687.0" y2="1350"/>
<line x1="2058.0" y1="0" x2="708.0" y2="1350"/>
<line x1="2079.0" y1="0" x2="729.0" y2="1350"/>
<line x1="2100.0" y1="0" x2="750.0" y2="1350"/>
<line x1="2121.0" y1="0" x2="771.0" y2="1350"/>
<line x1="2142.0" y1="0" x2="792.0" y2="1350"/>
<line x1="2163.0" y1="0" x2="813.0" y2="1350"/>
<line x1="2184.0" y1="0" x2="834.0" y2="1350"/>
<line x1="2205.0" y1="0" x2="855.0" y2="1350"/>
<line x1="2226.0" y1="0" x2="876.0" y2="1350"/>
<line x1="2247.0" y1="0" x2="897.0" y2="1350"/>
<line x1="2268.0" y1="0" x2="918.0" y2="1350"/>
<line x1="2289.0" y1="0" x2="939.0" y2="1350"/>
<line x1="2310.0" y1="0" x2="960.0" y2="1350"/>
<line x1="2331.0" y1="0" x2="981.0" y2="1350"/>
<line x1="2352.0" y1="0" x2="1002.0" y2="1350"/>
<line x1="2373.0" y1="0" x2="1023.0" y2="1350"/>
<line x1="2394.0" y1="0" x2="1044.0" y2="1350"/>
<line x1="2415.0" y1="0" x2="1065.0" y2="1350"/>
<line x1="2436.0" y1="0" x2="1086.0" y2="1350"/>
<line x1="2457.0" y1="0" x2="1107.0" y2="1350"/>
<line x1="2478.0" y1="0" x2="1128.0" y2="1350"/>
<line x1="2499.0" y1="0" x2="1149.0" y2="1350"/>
<line x1="2520.0" y1="0" x2="1170.0" y2="1350"/>
<line x1="2541.0" y1="0" x2="1191.0" y2="1350"/>
<line x1="2562.0" y1="0" x2="1212.0" y2="1350"/>
<line x1="2583.0" y1="0" x2="1233.0" y2="1350"/>
</g>
<g clip-path="url(#hcn1)" stroke-width="1.3">
<line x1="-1362.0" y1="0" x2="-12.0" y2="1350"/>
<line x1="-1341.0" y1="0" x2="9.0" y2="1350"/>
<line x1="-1320.0" y1="0" x2="30.0" y2="1350"/>
<line x1="-1299.0" y1="0" x2="51.0" y2="1350"/>
<line x1="-1278.0" y1="0" x2="72.0" y2="1350"/>
<line x1="-1257.0" y1="0" x2="93.0" y2="1350"/>
<line x1="-1236.0" y1="0" x2="114.0" y2="1350"/>
<line x1="-1215.0" y1="0" x2="135.0" y2="1350"/>
<line x1="-1194.0" y1="0" x2="156.0" y2="1350"/>
<line x1="-1173.0" y1="0" x2="177.0" y2="1350"/>
<line x1="-1152.0" y1="0" x2="198.0" y2="1350"/>
<line x1="-1131.0" y1="0" x2="219.0" y2="1350"/>
<line x1="-1110.0" y1="0" x2="240.0" y2="1350"/>
<line x1="-1089.0" y1="0" x2="261.0" y2="1350"/>
<line x1="-1068.0" y1="0" x2="282.0" y2="1350"/>
<line x1="-1047.0" y1="0" x2="303.0" y2="1350"/>
<line x1="-1026.0" y1="0" x2="324.0" y2="1350"/>
<line x1="-1005.0" y1="0" x2="345.0" y2="1350"/>
<line x1="-984.0" y1="0" x2="366.0" y2="1350"/>
<line x1="-963.0" y1="0" x2="387.0" y2="1350"/>
<line x1="-942.0" y1="0" x2="408.0" y2="1350"/>
<line x1="-921.0" y1="0" x2="429.0" y2="1350"/>
<line x1="-900.0" y1="0" x2="450.0" y2="1350"/>
<line x1="-879.0" y1="0" x2="471.0" y2="1350"/>
<line x1="-858.0" y1="0" x2="492.0" y2="1350"/>
<line x1="-837.0" y1="0" x2="513.0" y2="1350"/>
<line x1="-816.0" y1="0" x2="534.0" y2="1350"/>
<line x1="-795.0" y1="0" x2="555.0" y2="1350"/>
<line x1="-774.0" y1="0" x2="576.0" y2="1350"/>
<line x1="-753.0" y1="0" x2="597.0" y2="1350"/>
<line x1="-732.0" y1="0" x2="618.0" y2="1350"/>
<line x1="-711.0" y1="0" x2="639.0" y2="1350"/>
<line x1="-690.0" y1="0" x2="660.0" y2="1350"/>
<line x1="-669.0" y1="0" x2="681.0" y2="1350"/>
<line x1="-648.0" y1="0" x2="702.0" y2="1350"/>
<line x1="-627.0" y1="0" x2="723.0" y2="1350"/>
<line x1="-606.0" y1="0" x2="744.0" y2="1350"/>
<line x1="-585.0" y1="0" x2="765.0" y2="1350"/>
<line x1="-564.0" y1="0" x2="786.0" y2="1350"/>
<line x1="-543.0" y1="0" x2="807.0" y2="1350"/>
<line x1="-522.0" y1="0" x2="828.0" y2="1350"/>
<line x1="-501.0" y1="0" x2="849.0" y2="1350"/>
<line x1="-480.0" y1="0" x2="870.0" y2="1350"/>
<line x1="-459.0" y1="0" x2="891.0" y2="1350"/>
<line x1="-438.0" y1="0" x2="912.0" y2="1350"/>
<line x1="-417.0" y1="0" x2="933.0" y2="1350"/>
<line x1="-396.0" y1="0" x2="954.0" y2="1350"/>
<line x1="-375.0" y1="0" x2="975.0" y2="1350"/>
<line x1="-354.0" y1="0" x2="996.0" y2="1350"/>
<line x1="-333.0" y1="0" x2="1017.0" y2="1350"/>
<line x1="-312.0" y1="0" x2="1038.0" y2="1350"/>
<line x1="-291.0" y1="0" x2="1059.0" y2="1350"/>
<line x1="-270.0" y1="0" x2="1080.0" y2="1350"/>
<line x1="-249.0" y1="0" x2="1101.0" y2="1350"/>
<line x1="-228.0" y1="0" x2="1122.0" y2="1350"/>
<line x1="-207.0" y1="0" x2="1143.0" y2="1350"/>
<line x1="-186.0" y1="0" x2="1164.0" y2="1350"/>
<line x1="-165.0" y1="0" x2="1185.0" y2="1350"/>
<line x1="-144.0" y1="0" x2="1206.0" y2="1350"/>
<line x1="-123.0" y1="0" x2="1227.0" y2="1350"/>
<line x1="-102.0" y1="0" x2="1248.0" y2="1350"/>
<line x1="-81.0" y1="0" x2="1269.0" y2="1350"/>
<line x1="-60.0" y1="0" x2="1290.0" y2="1350"/>
<line x1="-39.0" y1="0" x2="1311.0" y2="1350"/>
<line x1="-18.0" y1="0" x2="1332.0" y2="1350"/>
<line x1="3.0" y1="0" x2="1353.0" y2="1350"/>
<line x1="24.0" y1="0" x2="1374.0" y2="1350"/>
<line x1="45.0" y1="0" x2="1395.0" y2="1350"/>
<line x1="66.0" y1="0" x2="1416.0" y2="1350"/>
<line x1="87.0" y1="0" x2="1437.0" y2="1350"/>
<line x1="108.0" y1="0" x2="1458.0" y2="1350"/>
<line x1="129.0" y1="0" x2="1479.0" y2="1350"/>
<line x1="150.0" y1="0" x2="1500.0" y2="1350"/>
<line x1="171.0" y1="0" x2="1521.0" y2="1350"/>
<line x1="192.0" y1="0" x2="1542.0" y2="1350"/>
<line x1="213.0" y1="0" x2="1563.0" y2="1350"/>
<line x1="234.0" y1="0" x2="1584.0" y2="1350"/>
<line x1="255.0" y1="0" x2="1605.0" y2="1350"/>
<line x1="276.0" y1="0" x2="1626.0" y2="1350"/>
<line x1="297.0" y1="0" x2="1647.0" y2="1350"/>
<line x1="318.0" y1="0" x2="1668.0" y2="1350"/>
<line x1="339.0" y1="0" x2="1689.0" y2="1350"/>
<line x1="360.0" y1="0" x2="1710.0" y2="1350"/>
<line x1="381.0" y1="0" x2="1731.0" y2="1350"/>
<line x1="402.0" y1="0" x2="1752.0" y2="1350"/>
<line x1="423.0" y1="0" x2="1773.0" y2="1350"/>
<line x1="444.0" y1="0" x2="1794.0" y2="1350"/>
<line x1="465.0" y1="0" x2="1815.0" y2="1350"/>
<line x1="486.0" y1="0" x2="1836.0" y2="1350"/>
<line x1="507.0" y1="0" x2="1857.0" y2="1350"/>
<line x1="528.0" y1="0" x2="1878.0" y2="1350"/>
<line x1="549.0" y1="0" x2="1899.0" y2="1350"/>
<line x1="570.0" y1="0" x2="1920.0" y2="1350"/>
<line x1="591.0" y1="0" x2="1941.0" y2="1350"/>
<line x1="612.0" y1="0" x2="1962.0" y2="1350"/>
<line x1="633.0" y1="0" x2="1983.0" y2="1350"/>
<line x1="654.0" y1="0" x2="2004.0" y2="1350"/>
<line x1="675.0" y1="0" x2="2025.0" y2="1350"/>
<line x1="696.0" y1="0" x2="2046.0" y2="1350"/>
<line x1="717.0" y1="0" x2="2067.0" y2="1350"/>
<line x1="738.0" y1="0" x2="2088.0" y2="1350"/>
<line x1="759.0" y1="0" x2="2109.0" y2="1350"/>
<line x1="780.0" y1="0" x2="2130.0" y2="1350"/>
<line x1="801.0" y1="0" x2="2151.0" y2="1350"/>
<line x1="822.0" y1="0" x2="2172.0" y2="1350"/>
<line x1="843.0" y1="0" x2="2193.0" y2="1350"/>
<line x1="864.0" y1="0" x2="2214.0" y2="1350"/>
<line x1="885.0" y1="0" x2="2235.0" y2="1350"/>
<line x1="906.0" y1="0" x2="2256.0" y2="1350"/>
<line x1="927.0" y1="0" x2="2277.0" y2="1350"/>
<line x1="948.0" y1="0" x2="2298.0" y2="1350"/>
<line x1="969.0" y1="0" x2="2319.0" y2="1350"/>
<line x1="990.0" y1="0" x2="2340.0" y2="1350"/>
<line x1="1011.0" y1="0" x2="2361.0" y2="1350"/>
<line x1="1032.0" y1="0" x2="2382.0" y2="1350"/>
<line x1="1053.0" y1="0" x2="2403.0" y2="1350"/>
<line x1="1074.0" y1="0" x2="2424.0" y2="1350"/>
<line x1="1095.0" y1="0" x2="2445.0" y2="1350"/>
<line x1="1116.0" y1="0" x2="2466.0" y2="1350"/>
<line x1="1137.0" y1="0" x2="2487.0" y2="1350"/>
<line x1="1158.0" y1="0" x2="2508.0" y2="1350"/>
<line x1="1179.0" y1="0" x2="2529.0" y2="1350"/>
<line x1="1200.0" y1="0" x2="2550.0" y2="1350"/>
<line x1="1221.0" y1="0" x2="2571.0" y2="1350"/>
<line x1="1242.0" y1="0" x2="2592.0" y2="1350"/>
</g>
<g clip-path="url(#hcn2)" stroke-width="1.3">
<line x1="-1362.0" y1="0" x2="-12.0" y2="1350"/>
<line x1="-1341.0" y1="0" x2="9.0" y2="1350"/>
<line x1="-1320.0" y1="0" x2="30.0" y2="1350"/>
<line x1="-1299.0" y1="0" x2="51.0" y2="1350"/>
<line x1="-1278.0" y1="0" x2="72.0" y2="1350"/>
<line x1="-1257.0" y1="0" x2="93.0" y2="1350"/>
<line x1="-1236.0" y1="0" x2="114.0" y2="1350"/>
<line x1="-1215.0" y1="0" x2="135.0" y2="1350"/>
<line x1="-1194.0" y1="0" x2="156.0" y2="1350"/>
<line x1="-1173.0" y1="0" x2="177.0" y2="1350"/>
<line x1="-1152.0" y1="0" x2="198.0" y2="1350"/>
<line x1="-1131.0" y1="0" x2="219.0" y2="1350"/>
<line x1="-1110.0" y1="0" x2="240.0" y2="1350"/>
<line x1="-1089.0" y1="0" x2="261.0" y2="1350"/>
<line x1="-1068.0" y1="0" x2="282.0" y2="1350"/>
<line x1="-1047.0" y1="0" x2="303.0" y2="1350"/>
<line x1="-1026.0" y1="0" x2="324.0" y2="1350"/>
<line x1="-1005.0" y1="0" x2="345.0" y2="1350"/>
<line x1="-984.0" y1="0" x2="366.0" y2="1350"/>
<line x1="-963.0" y1="0" x2="387.0" y2="1350"/>
<line x1="-942.0" y1="0" x2="408.0" y2="1350"/>
<line x1="-921.0" y1="0" x2="429.0" y2="1350"/>
<line x1="-900.0" y1="0" x2="450.0" y2="1350"/>
<line x1="-879.0" y1="0" x2="471.0" y2="1350"/>
<line x1="-858.0" y1="0" x2="492.0" y2="1350"/>
<line x1="-837.0" y1="0" x2="513.0" y2="1350"/>
<line x1="-816.0" y1="0" x2="534.0" y2="1350"/>
<line x1="-795.0" y1="0" x2="555.0" y2="1350"/>
<line x1="-774.0" y1="0" x2="576.0" y2="1350"/>
<line x1="-753.0" y1="0" x2="597.0" y2="1350"/>
<line x1="-732.0" y1="0" x2="618.0" y2="1350"/>
<line x1="-711.0" y1="0" x2="639.0" y2="1350"/>
<line x1="-690.0" y1="0" x2="660.0" y2="1350"/>
<line x1="-669.0" y1="0" x2="681.0" y2="1350"/>
<line x1="-648.0" y1="0" x2="702.0" y2="1350"/>
<line x1="-627.0" y1="0" x2="723.0" y2="1350"/>
<line x1="-606.0" y1="0" x2="744.0" y2="1350"/>
<line x1="-585.0" y1="0" x2="765.0" y2="1350"/>
<line x1="-564.0" y1="0" x2="786.0" y2="1350"/>
<line x1="-543.0" y1="0" x2="807.0" y2="1350"/>
<line x1="-522.0" y1="0" x2="828.0" y2="1350"/>
<line x1="-501.0" y1="0" x2="849.0" y2="1350"/>
<line x1="-480.0" y1="0" x2="870.0" y2="1350"/>
<line x1="-459.0" y1="0" x2="891.0" y2="1350"/>
<line x1="-438.0" y1="0" x2="912.0" y2="1350"/>
<line x1="-417.0" y1="0" x2="933.0" y2="1350"/>
<line x1="-396.0" y1="0" x2="954.0" y2="1350"/>
<line x1="-375.0" y1="0" x2="975.0" y2="1350"/>
<line x1="-354.0" y1="0" x2="996.0" y2="1350"/>
<line x1="-333.0" y1="0" x2="1017.0" y2="1350"/>
<line x1="-312.0" y1="0" x2="1038.0" y2="1350"/>
<line x1="-291.0" y1="0" x2="1059.0" y2="1350"/>
<line x1="-270.0" y1="0" x2="1080.0" y2="1350"/>
<line x1="-249.0" y1="0" x2="1101.0" y2="1350"/>
<line x1="-228.0" y1="0" x2="1122.0" y2="1350"/>
<line x1="-207.0" y1="0" x2="1143.0" y2="1350"/>
<line x1="-186.0" y1="0" x2="1164.0" y2="1350"/>
<line x1="-165.0" y1="0" x2="1185.0" y2="1350"/>
<line x1="-144.0" y1="0" x2="1206.0" y2="1350"/>
<line x1="-123.0" y1="0" x2="1227.0" y2="1350"/>
<line x1="-102.0" y1="0" x2="1248.0" y2="1350"/>
<line x1="-81.0" y1="0" x2="1269.0" y2="1350"/>
<line x1="-60.0" y1="0" x2="1290.0" y2="1350"/>
<line x1="-39.0" y1="0" x2="1311.0" y2="1350"/>
<line x1="-18.0" y1="0" x2="1332.0" y2="1350"/>
<line x1="3.0" y1="0" x2="1353.0" y2="1350"/>
<line x1="24.0" y1="0" x2="1374.0" y2="1350"/>
<line x1="45.0" y1="0" x2="1395.0" y2="1350"/>
<line x1="66.0" y1="0" x2="1416.0" y2="1350"/>
<line x1="87.0" y1="0" x2="1437.0" y2="1350"/>
<line x1="108.0" y1="0" x2="1458.0" y2="1350"/>
<line x1="129.0" y1="0" x2="1479.0" y2="1350"/>
<line x1="150.0" y1="0" x2="1500.0" y2="1350"/>
<line x1="171.0" y1="0" x2="1521.0" y2="1350"/>
<line x1="192.0" y1="0" x2="1542.0" y2="1350"/>
<line x1="213.0" y1="0" x2="1563.0" y2="1350"/>
<line x1="234.0" y1="0" x2="1584.0" y2="1350"/>
<line x1="255.0" y1="0" x2="1605.0" y2="1350"/>
<line x1="276.0" y1="0" x2="1626.0" y2="1350"/>
<line x1="297.0" y1="0" x2="1647.0" y2="1350"/>
<line x1="318.0" y1="0" x2="1668.0" y2="1350"/>
<line x1="339.0" y1="0" x2="1689.0" y2="1350"/>
<line x1="360.0" y1="0" x2="1710.0" y2="1350"/>
<line x1="381.0" y1="0" x2="1731.0" y2="1350"/>
<line x1="402.0" y1="0" x2="1752.0" y2="1350"/>
<line x1="423.0" y1="0" x2="1773.0" y2="1350"/>
<line x1="444.0" y1="0" x2="1794.0" y2="1350"/>
<line x1="465.0" y1="0" x2="1815.0" y2="1350"/>
<line x1="486.0" y1="0" x2="1836.0" y2="1350"/>
<line x1="507.0" y1="0" x2="1857.0" y2="1350"/>
<line x1="528.0" y1="0" x2="1878.0" y2="1350"/>
<line x1="549.0" y1="0" x2="1899.0" y2="1350"/>
<line x1="570.0" y1="0" x2="1920.0" y2="1350"/>
<line x1="591.0" y1="0" x2="1941.0" y2="1350"/>
<line x1="612.0" y1="0" x2="1962.0" y2="1350"/>
<line x1="633.0" y1="0" x2="1983.0" y2="1350"/>
<line x1="654.0" y1="0" x2="2004.0" y2="1350"/>
<line x1="675.0" y1="0" x2="2025.0" y2="1350"/>
<line x1="696.0" y1="0" x2="2046.0" y2="1350"/>
<line x1="717.0" y1="0" x2="2067.0" y2="1350"/>
<line x1="738.0" y1="0" x2="2088.0" y2="1350"/>
<line x1="759.0" y1="0" x2="2109.0" y2="1350"/>
<line x1="780.0" y1="0" x2="2130.0" y2="1350"/>
<line x1="801.0" y1="0" x2="2151.0" y2="1350"/>
<line x1="822.0" y1="0" x2="2172.0" y2="1350"/>
<line x1="843.0" y1="0" x2="2193.0" y2="1350"/>
<line x1="864.0" y1="0" x2="2214.0" y2="1350"/>
<line x1="885.0" y1="0" x2="2235.0" y2="1350"/>
<line x1="906.0" y1="0" x2="2256.0" y2="1350"/>
<line x1="927.0" y1="0" x2="2277.0" y2="1350"/>
<line x1="948.0" y1="0" x2="2298.0" y2="1350"/>
<line x1="969.0" y1="0" x2="2319.0" y2="1350"/>
<line x1="990.0" y1="0" x2="2340.0" y2="1350"/>
<line x1="1011.0" y1="0" x2="2361.0" y2="1350"/>
<line x1="1032.0" y1="0" x2="2382.0" y2="1350"/>
<line x1="1053.0" y1="0" x2="2403.0" y2="1350"/>
<line x1="1074.0" y1="0" x2="2424.0" y2="1350"/>
<line x1="1095.0" y1="0" x2="2445.0" y2="1350"/>
<line x1="1116.0" y1="0" x2="2466.0" y2="1350"/>
<line x1="1137.0" y1="0" x2="2487.0" y2="1350"/>
<line x1="1158.0" y1="0" x2="2508.0" y2="1350"/>
<line x1="1179.0" y1="0" x2="2529.0" y2="1350"/>
<line x1="1200.0" y1="0" x2="2550.0" y2="1350"/>
<line x1="1221.0" y1="0" x2="2571.0" y2="1350"/>
<line x1="1242.0" y1="0" x2="2592.0" y2="1350"/>
</g>
<rect x="409" y="537" width="178" height="35" stroke-width="3.3" />
<path d="M430,572 Q433,576 431,584 L431,648 Q432,656 424,656" stroke-width="3.3" />
<path d="M567,572 Q565,576 567,584 L567,648 Q566,656 574,656" stroke-width="3.3" />
<path d="M569,573 Q580,580 579.5,600 Q579,609 576,614" stroke-width="3.0" />
<path d="M417,656 L587,656 L607.5,674 L607.5,865 L582.5,881.5 L415,881.5 L389,865 L389,674 Z" stroke-width="3.3" />
<path d="M403.5,658 L403.5,750.6 M403.5,763 L403.5,775 M403.5,787 L403.5,882" stroke-width="1.3" />
<line x1="594.5" y1="660" x2="594.5" y2="880" stroke-width="1.3" />
<path d="M430,966 Q433,962 431,954 L431,890 Q432,882 424,882" stroke-width="3.3" />
<path d="M567,966 Q565,962 567,954 L567,890 Q566,882 574,882" stroke-width="3.3" />
<path d="M569,965 Q580,958 579.5,938 Q579,929 576,924" stroke-width="3.0" />
<rect x="409" y="966.5" width="178" height="33.5" stroke-width="3.3" />
<path d="M369,769 L425,769 M437,769 L449,769 M461.5,769 L576.5,769 M587.5,769 L598.6,769 M612,769 L725,769 M736.7,769 L750,769 M761.6,769 L874.6,769 M888,769 L899.6,769 M911,769 L1026,769 M1037.5,769 L1049,769 M1062,769 L1118,769" stroke-width="1.4" />
<line x1="362" y1="1015" x2="362" y2="1118" stroke-width="3.3" />
<line x1="635" y1="1016" x2="635" y2="1118" stroke-width="3.3" />
<line x1="362" y1="1091" x2="635" y2="1091" stroke-width="3.3" />
<rect x="388" y="1097" width="221" height="21" stroke-width="3.3" />
<line x1="355" y1="1118" x2="388" y2="1118" stroke-width="3.3" />
<line x1="609" y1="1118" x2="731" y2="1118" stroke-width="3.3" />
<line x1="724" y1="1118" x2="724" y2="1179" stroke-width="2.6" />
<line x1="731" y1="1118" x2="731" y2="1179" stroke-width="2.6" />
<path d="M441,1000 L441,1078 L447,1085 L551,1085 L557,1078 L557,1000" stroke-width="3.3" />
<path d="M378,1020 L425,1014.8 L425,1073.6 L389.6,1078.8 Z" stroke-width="3.0" />
<path d="M576,1014.8 L623,1020 L609,1079 L576,1073 Z" stroke-width="3.0" />
<path d="M425,1014 Q420,1006 430,1001" stroke-width="2.4" />
<path d="M572,1014 Q577,1006 567,1001" stroke-width="2.4" />
<line x1="400" y1="1018" x2="407" y2="1075" stroke-width="1.3" stroke-dasharray="8 4"/>
<line x1="600" y1="1018" x2="593" y2="1075" stroke-width="1.3" stroke-dasharray="8 4"/>
<path d="M635,1097 L653,1117 L635,1117 Z" fill="#161616" stroke="none"/>
<path d="M296.5,1132 L296.5,1002 M338.5,1132 L338.5,1002" stroke-width="3.2" />
<path d="M296.5,1002 L302,996.3 L333,996.3 L338.5,1002" stroke-width="2.8" />
<line x1="296.5" y1="1002.2" x2="338.5" y2="1002.2" stroke-width="2.8" />
<line x1="303" y1="1003" x2="303" y2="1128" stroke-width="2.0" />
<line x1="334" y1="1003" x2="334" y2="1128" stroke-width="1.4" />
<line x1="297" y1="1114" x2="338" y2="1114" stroke-width="1.3" />
<rect x="293" y="1127" width="48" height="7" fill="#161616" stroke="none"/>
<path d="M281.5,1179 L281.5,1134 L353.8,1134 L353.8,1179" stroke-width="6.0" />
<line x1="278.5" y1="1134" x2="357" y2="1134" stroke-width="4.0" />
<line x1="284" y1="1170" x2="351" y2="1170" stroke-width="3.6" />
<line x1="284" y1="1175.2" x2="351" y2="1175.2" stroke-width="3.0" />
<path d="M265.8,1179 L265.8,1118.3 L294,1118.3" stroke-width="3.6" />
<line x1="272.6" y1="1120" x2="272.6" y2="1179" stroke-width="3.0" />
<path d="M341,1120 L364,1120 L364,1099 Z" fill="#161616" stroke="none"/>
<rect x="349" y="1110" width="6" height="4" fill="#fff" stroke="none" transform="rotate(-40 352 1112)"/>
<path d="M318,992 L318,1070 M318,1082 L318,1094.4 M318,1106.6 L318,1183" stroke-width="1.4" />
<path d="M1009.5,149 L1009.5,73 L1015,68.5 L1047,68.5 L1052.5,73 L1052.5,149 Z" stroke-width="3.3" />
<line x1="1012" y1="70.5" x2="1050" y2="70.5" stroke-width="5.0" />
<line x1="1014.5" y1="74" x2="1014.5" y2="147" stroke-width="2.0" />
<line x1="1047.5" y1="74" x2="1047.5" y2="147" stroke-width="2.0" />
<path d="M1013.5,150 L1013.5,157.5 L1010.5,158.5 L1010.5,204 M1048.5,150 L1048.5,157.5 L1051,158.5 L1051,204" stroke-width="3.3" />
<line x1="1010.5" y1="164.2" x2="1051" y2="164.2" stroke-width="3.4" />
<line x1="1010.5" y1="204" x2="1051" y2="204" stroke-width="3.6" />
<path d="M1012,205 L1014,214 L1010.5,217 L1010.5,270.5 M1049.5,205 L1047.5,214 L1051,217 L1051,270.5" stroke-width="3.3" />
<line x1="1010.5" y1="217" x2="1051" y2="217" stroke-width="3.4" />
<line x1="1010.5" y1="270.5" x2="1051" y2="270.5" stroke-width="4.6" />
<line x1="1015" y1="219" x2="1015" y2="268" stroke-width="1.6" />
<line x1="1046.5" y1="219" x2="1046.5" y2="268" stroke-width="1.6" />
<path d="M1030,55 L1030,152.4 M1030,166 L1030,176.5 M1030,189 L1030,286" stroke-width="1.5" />
<path d="M963.5,184.4 Q957,190 958.3,200 Q957,212 964.8,218.3 L964.8,237" stroke-width="1.3" />
<path d="M1069,185 Q1076,190 1078,196 Q1078,204 1078,210.5 Q1085,216 1085,221 Q1082,230 1081,237" stroke-width="1.3" />
<path d="M567,624 A291,291 0 1 1 567,914" stroke-width="3.3" />
<path d="M567,625 L567,650" stroke-width="3.3" />
<path d="M594,660 A252.5,252.5 0 1 1 594,878" stroke-width="3.3" />
<path d="M612,683 A225,225 0 1 1 612,855" stroke-width="1.3" stroke-dasharray="105.45 12 12 12" stroke-dashoffset="0.2"/>
<path d="M776,610.7 A164,164 0 1 0 860,610.2" stroke-width="3.3" />
<path d="M776.8,611 L776.8,587.5 L859.7,587.5 L859.7,611" stroke-width="2.9" />
<line x1="776.8" y1="608.5" x2="859.7" y2="608.5" stroke-width="2.9" />
<circle cx="819" cy="769" r="153.5" stroke-width="3.3" />
<circle cx="819" cy="769" r="139" stroke-width="3.3" />
<path d="M793,889.2 A123,123 0 1 1 846,889.0" stroke-width="3.3" />
<path d="M793,873.8 A108,108 0 1 1 846,873.6" stroke-width="3.3" />
<path d="M793,873.8 L793,897 L846,897 L846,873.6" stroke-width="3.3" />
<path d="M819,359 L819,411 M819,423 L819,435 M819,448 L819,1073" stroke-width="1.4" />
<path d="M797.8,478.8 A55,55 0 1 1 840.2,478.8" stroke-width="3.3" />
<circle cx="819" cy="428" r="34" stroke-width="3.3" />
<path d="M760,428 L767,428 M779,428 L786,428 M797.5,428 L841,428 M852,428 L859,428 M871,428 L877,428" stroke-width="1.3" />
<circle cx="1115" cy="596" r="54" stroke-width="3.3" />
<circle cx="1115" cy="596" r="34" stroke-width="3.3" />
<line x1="1061.4719625891298" y1="627.2849678110829" x2="1168.5280374108702" y2="564.7150321889171" stroke-width="1.3" stroke-dasharray="22 5 3 5"/>
<line x1="1083.7150321889171" y1="542.4719625891299" x2="1146.2849678110829" y2="649.5280374108701" stroke-width="1.3" stroke-dasharray="22 5 3 5"/>
<circle cx="1115" cy="938" r="54" stroke-width="3.3" />
<circle cx="1115" cy="938" r="34" stroke-width="3.3" />
<line x1="1061.157734934444" y1="907.2589770402737" x2="1168.842265065556" y2="968.7410229597263" stroke-width="1.3" stroke-dasharray="22 5 3 5"/>
<line x1="1145.7410229597263" y1="884.1577349344441" x2="1084.2589770402737" y2="991.8422650655559" stroke-width="1.3" stroke-dasharray="22 5 3 5"/>
<path d="M637,534 L655,528 L645,540 Z" fill="#161616" stroke="none"/>
<path d="M818.5,76 L818.5,126.4 M818.5,137 L818.5,150.4 M818.5,161 L818.5,212.7" stroke-width="4.3" />
<line x1="753" y1="99.5" x2="818" y2="99.5" stroke-width="4.2" />
<rect x="792.4" y="96" width="15.3" height="9" rx="1" fill="#161616" stroke="none"/>
<path d="M818.5,1155 L818.5,1205 M818.5,1216.3 L818.5,1230 M818.5,1240 L818.5,1291" stroke-width="4.3" />
<line x1="755.7" y1="1262" x2="818" y2="1262" stroke-width="4.2" />
<rect x="792.4" y="1258.8" width="15.6" height="8.6" rx="1" fill="#161616" stroke="none"/>
<line x1="237" y1="55" x2="258" y2="176" stroke-width="1.25" />
<line x1="335" y1="55" x2="346" y2="162" stroke-width="1.25" />
<line x1="446" y1="56" x2="455" y2="302" stroke-width="1.25" />
<line x1="539" y1="56" x2="513" y2="277" stroke-width="1.25" />
<line x1="1106" y1="56" x2="1040" y2="178" stroke-width="1.25" />
<line x1="103" y1="240" x2="391" y2="339" stroke-width="1.25" />
<line x1="91" y1="451" x2="394" y2="489" stroke-width="1.25" />
<line x1="91" y1="745" x2="443" y2="704" stroke-width="1.25" />
<line x1="277" y1="1306" x2="304" y2="1153" stroke-width="1.25" />
<line x1="450" y1="1306" x2="432" y2="1150" stroke-width="1.25" />
<line x1="563" y1="1306" x2="586" y2="1046" stroke-width="1.25" />
<line x1="685" y1="1306" x2="641" y2="1110" stroke-width="1.25" />
<line x1="1169" y1="296" x2="1226" y2="289" stroke-width="1.25" />
<line x1="837" y1="598" x2="1226" y2="481" stroke-width="1.25" />
<line x1="948" y1="742" x2="1226" y2="714" stroke-width="1.25" />
<line x1="1024" y1="796" x2="1226" y2="820" stroke-width="1.25" />
<circle cx="346" cy="163" r="7.3" fill="#161616" stroke="none"/>
<circle cx="455" cy="302" r="7.3" fill="#161616" stroke="none"/>
<circle cx="513" cy="277" r="7.3" fill="#161616" stroke="none"/>
<circle cx="1040" cy="178" r="7.3" fill="#161616" stroke="none"/>
<circle cx="391" cy="339" r="7.3" fill="#161616" stroke="none"/>
<circle cx="394" cy="490" r="7.3" fill="#161616" stroke="none"/>
<circle cx="443" cy="704" r="7.3" fill="#161616" stroke="none"/>
<circle cx="304" cy="1153" r="7.3" fill="#161616" stroke="none"/>
<circle cx="432" cy="1150" r="7.3" fill="#161616" stroke="none"/>
<circle cx="587" cy="1046" r="7.3" fill="#161616" stroke="none"/>
<circle cx="1169" cy="296" r="7.3" fill="#161616" stroke="none"/>
<circle cx="837" cy="598" r="7.3" fill="#161616" stroke="none"/>
<circle cx="948" cy="742" r="7.3" fill="#161616" stroke="none"/>
<circle cx="1024" cy="796" r="7.3" fill="#161616" stroke="none"/>
</g>
<g fill="none" stroke-linecap="round" stroke-linejoin="round">
<path d="M0,5.5 L10,0 L10,23" transform="translate(219.6,21.7) scale(0.4600,0.9957)" stroke="#222" stroke-width="1.7" vector-effect="non-scaling-stroke"/>
<path d="M4.5,0 L0.2,16.5 L10,16.5 M6.5,10 L6.5,23" transform="translate(229.8,21.7) scale(1.2000,0.9957)" stroke="#222" stroke-width="1.7" vector-effect="non-scaling-stroke"/>
<path d="M0,5.5 L10,0 L10,23" transform="translate(322.7,21.5) scale(0.5900,1.0217)" stroke="#222" stroke-width="1.7" vector-effect="non-scaling-stroke"/>
<path d="M0.3,3.5 C1,1 3,0.2 5,0.2 C8,0.2 9.5,2.2 9.5,5.5 C9.5,8.8 7.8,10.8 4.5,10.8 C8.2,10.8 10,13.5 10,17 C10,20.8 8,22.8 5,22.8 C2.7,22.8 1,21.8 0,19.5" transform="translate(332.5,21.5) scale(1.0500,1.0217)" stroke="#222" stroke-width="1.7" vector-effect="non-scaling-stroke"/>
<path d="M0,5.5 L10,0 L10,23" transform="translate(431,22.2) scale(0.6300,0.9696)" stroke="#222" stroke-width="1.7" vector-effect="non-scaling-stroke"/>
<path d="M0.2,2.5 L0.2,0.3 L10,0.3 L3,23" transform="translate(441.5,22.5) scale(1.4300,0.9913)" stroke="#222" stroke-width="1.7" vector-effect="non-scaling-stroke"/>
<path d="M0,5.5 L10,0 L10,23" transform="translate(530.7,22) scale(0.3900,0.9783)" stroke="#222" stroke-width="1.7" vector-effect="non-scaling-stroke"/>
<path d="M9,2.5 C8.2,0.8 6.8,0.2 5,0.2 C1.8,0.2 0.2,4 0.2,12.5 C0.2,19.5 2,22.8 5,22.8 C8,22.8 9.8,20.5 9.8,16.5 C9.8,12.5 8,10 5,10 C2.8,10 1,11.5 0.3,13.5" transform="translate(538.4,22) scale(1.1600,0.9783)" stroke="#222" stroke-width="1.7" vector-effect="non-scaling-stroke"/>
<path d="M0.3,4.5 C0.8,1.5 2.8,0.2 5,0.2 C7.8,0.2 9.5,2 9.5,5 C9.5,7 8.8,8.5 7.5,10.5 L0.3,22.8 L10,22.8" transform="translate(1103.9,20.7) scale(1.2800,1.0130)" stroke="#222" stroke-width="1.7" vector-effect="non-scaling-stroke"/>
<path d="M0,5.5 L10,0 L10,23" transform="translate(1120.6,21.5) scale(0.4700,0.9609)" stroke="#222" stroke-width="1.7" vector-effect="non-scaling-stroke"/>
<path d="M9.5,0.3 L0.8,0.3 L0.5,10.5 C1.8,9.5 3.2,9 4.8,9 C8,9 9.8,11.5 9.8,16 C9.8,20.5 8,22.8 5,22.8 C3,22.8 1.2,22 0,20" transform="translate(34.3,216.7) scale(1.0000,1.0130)" stroke="#222" stroke-width="1.7" vector-effect="non-scaling-stroke"/>
<path d="M10,0 C0,5 0,18 10,23" transform="translate(57,216.5) scale(0.2500,1.0435)" stroke="#222" stroke-width="1.7" vector-effect="non-scaling-stroke"/>
<path d="M0,5.5 L10,0 L10,23" transform="translate(63.6,216.5) scale(0.5300,1.0217)" stroke="#222" stroke-width="1.7" vector-effect="non-scaling-stroke"/>
<path d="M0.3,4.5 C0.8,1.5 2.8,0.2 5,0.2 C7.8,0.2 9.5,2 9.5,5 C9.5,7 8.8,8.5 7.5,10.5 L0.3,22.8 L10,22.8" transform="translate(72.2,216.5) scale(1.1400,1.0217)" stroke="#222" stroke-width="1.7" vector-effect="non-scaling-stroke"/>
<path d="M0,0 C10,5 10,18 0,23" transform="translate(88,216.5) scale(0.2500,1.0435)" stroke="#222" stroke-width="1.7" vector-effect="non-scaling-stroke"/>
<path d="M0,5.5 L10,0 L10,23" transform="translate(57,436.5) scale(0.4700,0.9870)" stroke="#222" stroke-width="1.7" vector-effect="non-scaling-stroke"/>
<path d="M5,0.2 C7.8,0.2 9.8,4 9.8,11.5 C9.8,19 7.8,22.8 5,22.8 C2.2,22.8 0.2,19 0.2,11.5 C0.2,4 2.2,0.2 5,0.2 Z" transform="translate(67.6,436.5) scale(0.9900,0.9870)" stroke="#222" stroke-width="1.7" vector-effect="non-scaling-stroke"/>
<path d="M4.5,0 L0.2,16.5 L10,16.5 M6.5,10 L6.5,23" transform="translate(67.6,735.8) scale(1.0900,0.9478)" stroke="#222" stroke-width="1.7" vector-effect="non-scaling-stroke"/>
<path d="M0,5.5 L10,0 L10,23" transform="translate(260.6,1316.7) scale(0.5100,0.9696)" stroke="#222" stroke-width="1.7" vector-effect="non-scaling-stroke"/>
<path d="M9.5,0.3 L0.8,0.3 L0.5,10.5 C1.8,9.5 3.2,9 4.8,9 C8,9 9.8,11.5 9.8,16 C9.8,20.5 8,22.8 5,22.8 C3,22.8 1.2,22 0,20" transform="translate(271.2,1316.7) scale(1.1300,0.9696)" stroke="#222" stroke-width="1.7" vector-effect="non-scaling-stroke"/>
<path d="M0.2,2.5 L0.2,0.3 L10,0.3 L3,23" transform="translate(444.4,1317.5) scale(1.3300,0.9391)" stroke="#222" stroke-width="1.7" vector-effect="non-scaling-stroke"/>
<path d="M0,5.5 L10,0 L10,23" transform="translate(550.4,1316.8) scale(0.5100,0.9652)" stroke="#222" stroke-width="1.7" vector-effect="non-scaling-stroke"/>
<path d="M5,0.2 C7.8,0.2 9.8,4 9.8,11.5 C9.8,19 7.8,22.8 5,22.8 C2.2,22.8 0.2,19 0.2,11.5 C0.2,4 2.2,0.2 5,0.2 Z" transform="translate(559.4,1316.8) scale(1.3200,0.9652)" stroke="#222" stroke-width="1.7" vector-effect="non-scaling-stroke"/>
<path d="M0.3,4.5 C0.8,1.5 2.8,0.2 5,0.2 C7.8,0.2 9.5,2 9.5,5 C9.5,7 8.8,8.5 7.5,10.5 L0.3,22.8 L10,22.8" transform="translate(675.2,1316.8) scale(1.3200,0.9652)" stroke="#222" stroke-width="1.7" vector-effect="non-scaling-stroke"/>
<path d="M5,0.2 C7.8,0.2 9.8,4 9.8,11.5 C9.8,19 7.8,22.8 5,22.8 C2.2,22.8 0.2,19 0.2,11.5 C0.2,4 2.2,0.2 5,0.2 Z" transform="translate(689.8,1316.8) scale(1.2500,0.9652)" stroke="#222" stroke-width="1.7" vector-effect="non-scaling-stroke"/>
<path d="M0.8,0.6 L0.8,33.4 L9,33.4 C14,33.4 16.2,30.5 16.2,25.2 C16.2,19.8 13.5,17 8.5,17 L0.8,17 M0.8,0.6 L8,0.6 C12.5,0.6 14.8,3.2 14.8,8.5 C14.8,13.5 12.5,17 8.5,17" transform="translate(811,27) scale(1.0000,1.0000)" stroke="#161616" stroke-width="3.6" vector-effect="non-scaling-stroke"/>
<path d="M0.8,0.6 L0.8,33.4 L9,33.4 C14,33.4 16.2,30.5 16.2,25.2 C16.2,19.8 13.5,17 8.5,17 L0.8,17 M0.8,0.6 L8,0.6 C12.5,0.6 14.8,3.2 14.8,8.5 C14.8,13.5 12.5,17 8.5,17" transform="translate(811.6,1299) scale(0.9471,1.0000)" stroke="#161616" stroke-width="3.6" vector-effect="non-scaling-stroke"/>
</g>
</svg></body></html>
